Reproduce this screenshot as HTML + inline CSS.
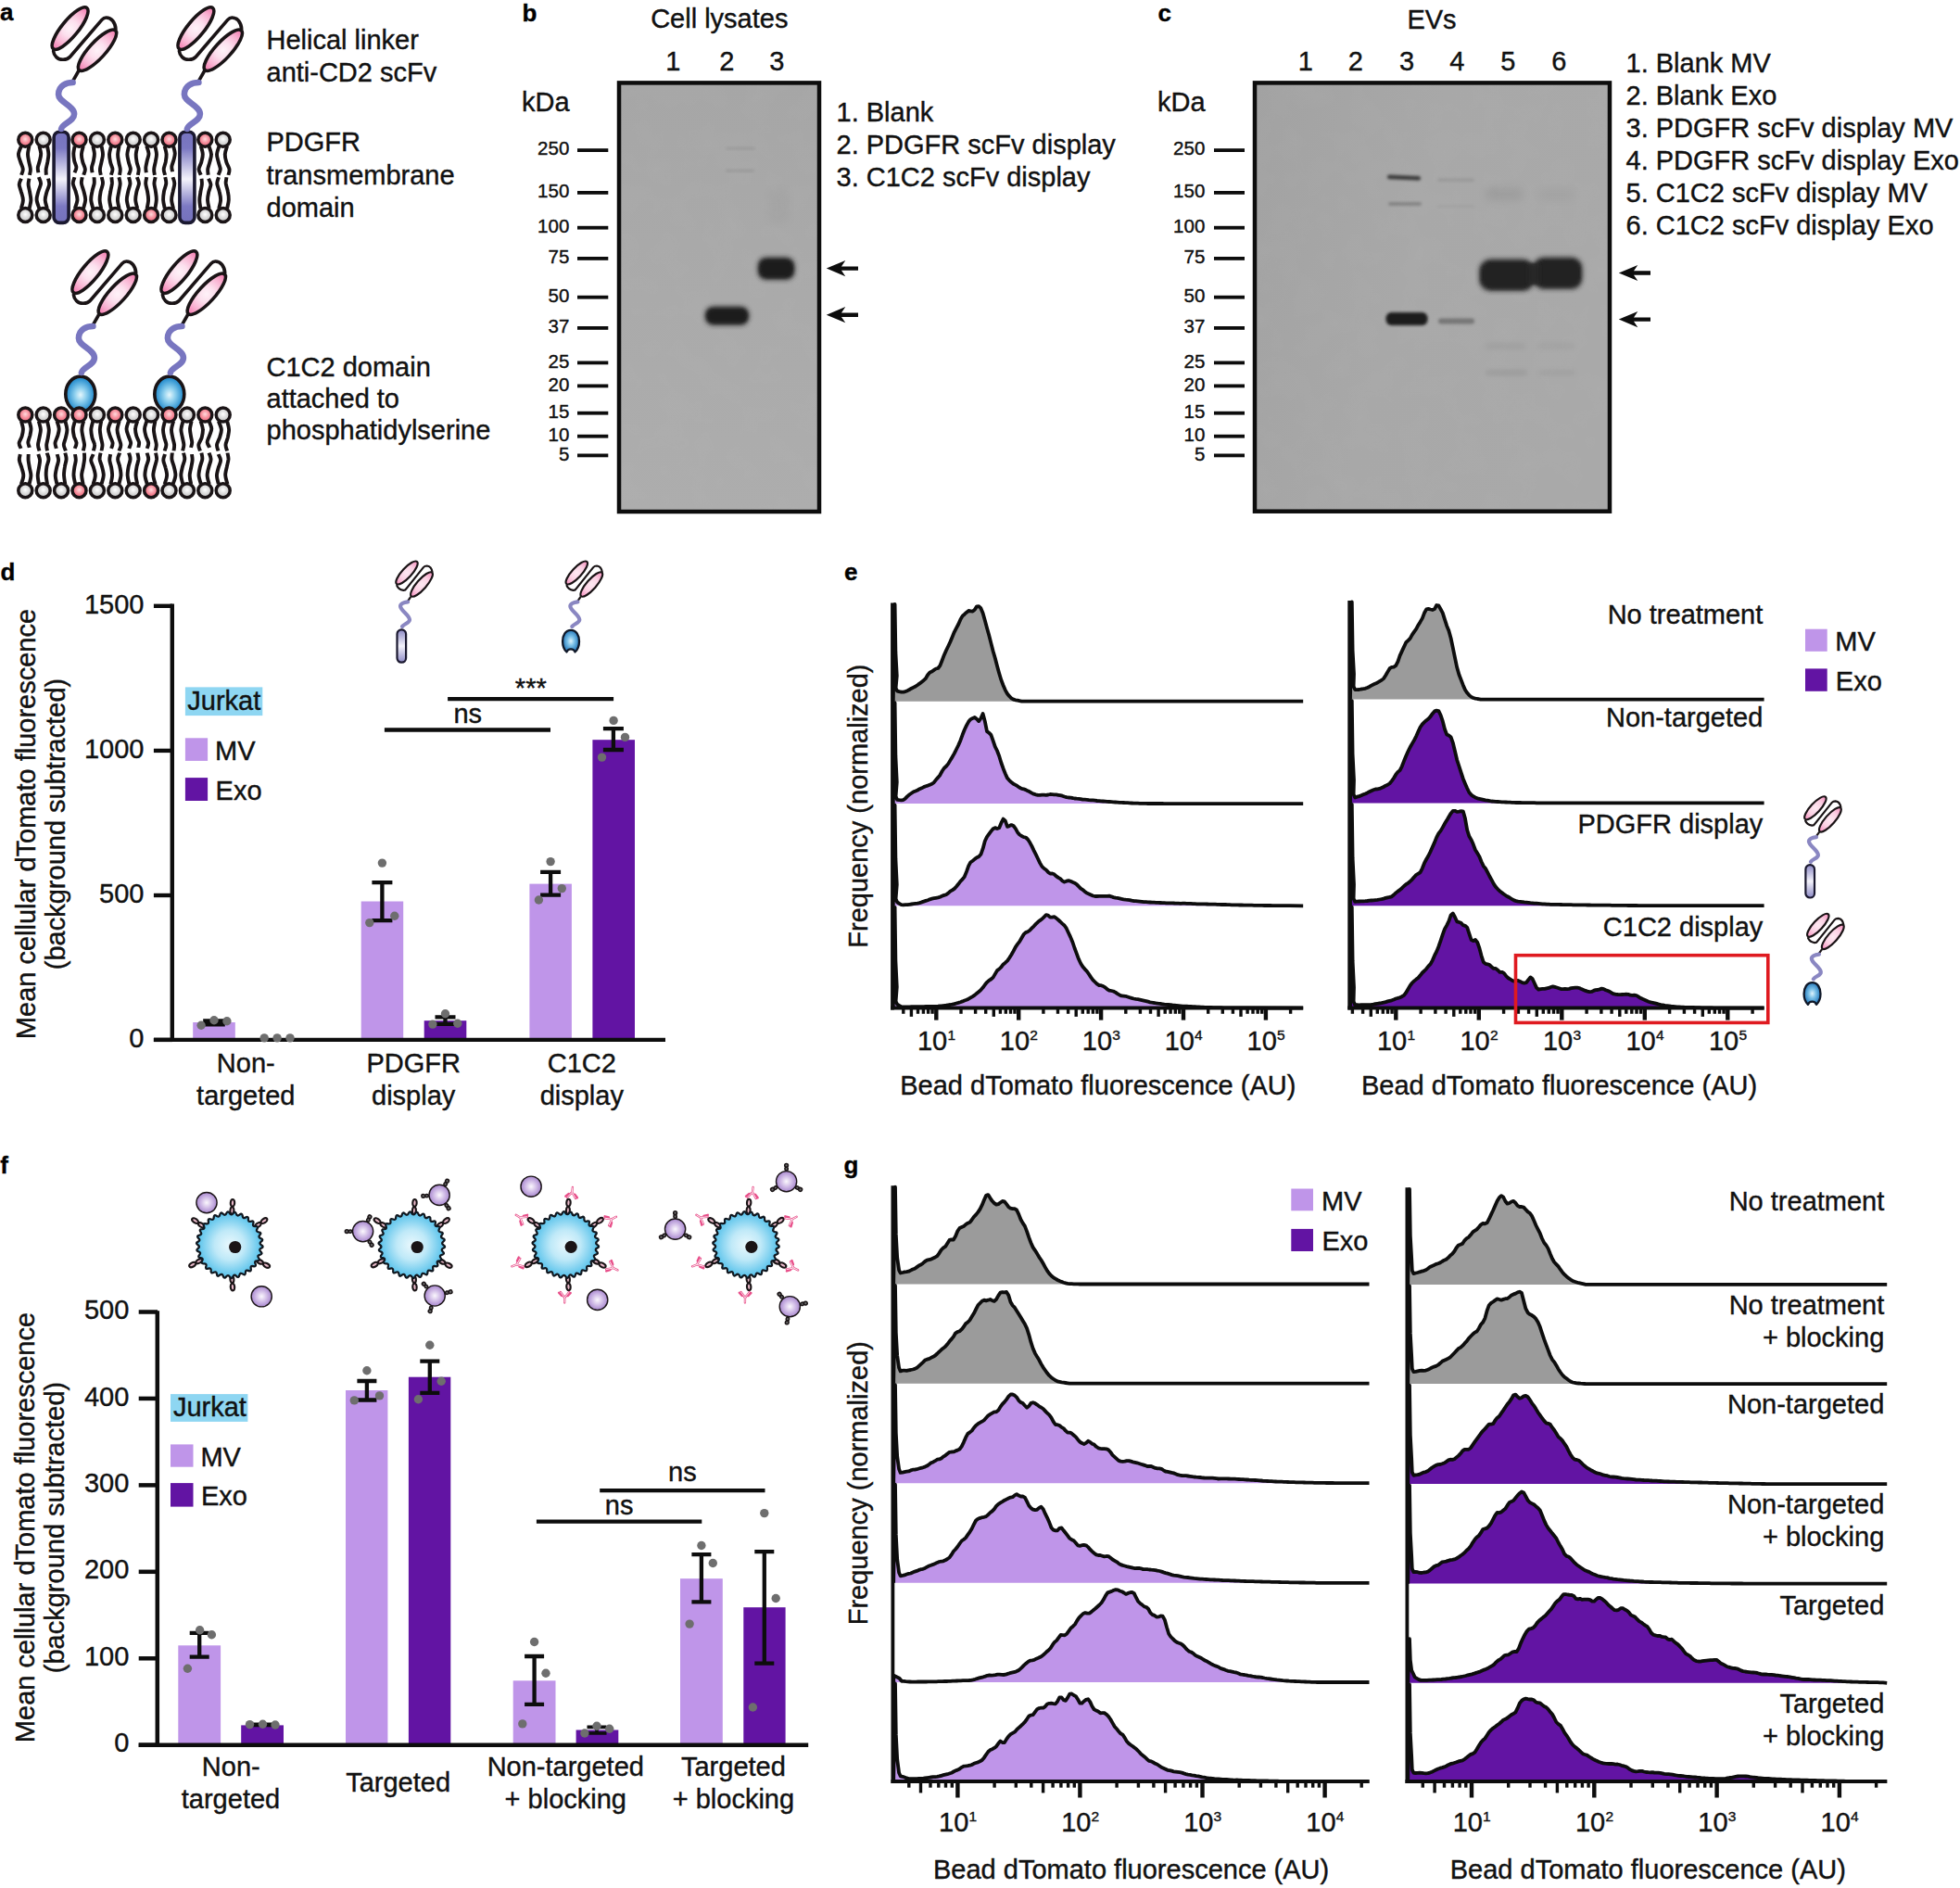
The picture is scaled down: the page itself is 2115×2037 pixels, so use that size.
<!DOCTYPE html>
<html><head><meta charset="utf-8"><title>Figure</title>
<style>
html,body{margin:0;padding:0;background:#fff;}
body{width:2115px;height:2037px;overflow:hidden;}
svg{display:block;font-family:"Liberation Sans",Arial,sans-serif;}
text{stroke:#111;stroke-width:0.4px;}
</style></head><body>
<svg width="2115" height="2037" viewBox="0 0 2115 2037">
<defs>
<radialGradient id="gPinkHead" cx="50%" cy="45%" r="55%"><stop offset="0" stop-color="#ffd9dc"/><stop offset="0.55" stop-color="#f58a98"/><stop offset="1" stop-color="#e85f78"/></radialGradient>
<radialGradient id="gGrayHead" cx="50%" cy="45%" r="55%"><stop offset="0" stop-color="#ffffff"/><stop offset="0.5" stop-color="#dcdcdc"/><stop offset="1" stop-color="#bdbdbd"/></radialGradient>
<radialGradient id="gPinkEll" cx="0.5" cy="0.5" r="0.5" gradientTransform="translate(0.5 0.5) scale(1 3.3) translate(-0.5 -0.5)"><stop offset="0" stop-color="#fef2f8"/><stop offset="0.3" stop-color="#fce0ee"/><stop offset="0.65" stop-color="#f9b3d2"/><stop offset="1" stop-color="#f578ae"/></radialGradient>
<linearGradient id="gTM" x1="0" y1="0" x2="0" y2="1"><stop offset="0" stop-color="#7673bd"/><stop offset="0.18" stop-color="#7b78c2"/><stop offset="0.52" stop-color="#f4f3fb"/><stop offset="0.82" stop-color="#7b78c2"/><stop offset="1" stop-color="#7471bb"/></linearGradient>
<radialGradient id="gBlue" cx="50%" cy="52%" r="55%"><stop offset="0" stop-color="#e6f7fd"/><stop offset="0.35" stop-color="#8fd0ee"/><stop offset="0.8" stop-color="#2f93d1"/><stop offset="1" stop-color="#1f7fc4"/></radialGradient>

<g id="scfv">
<path d="M-8.2,-84.2 C-7.7,-79.3 -3.7,-74.8 2.3,-75 C5.3,-75.1 7.8,-75.8 9.8,-78.1 L44.1,-117.9 C45.8,-119.8 47.3,-120.3 48.8,-120.3 C54.3,-120.3 58.8,-115.3 59.1,-107.5" fill="none" stroke="#1a1416" stroke-width="3.6" stroke-linecap="round"/>
<ellipse cx="9.8" cy="-108.7" rx="28.6" ry="8.8" transform="rotate(-50.5 9.8 -108.7)" fill="url(#gPinkEll)" stroke="#1a1416" stroke-width="3.6"/>
<ellipse cx="39.2" cy="-85.1" rx="29" ry="8.8" transform="rotate(-47.5 39.2 -85.1)" fill="url(#gPinkEll)" stroke="#1a1416" stroke-width="3.6"/>
<path d="M19.6,-63.8 L12.3,-51" fill="none" stroke="#1a1416" stroke-width="3.6"/>
<path d="M12.8,-50.3 C6.3,-50.3 -2.7,-47.3 -2.7,-37.3 C-2.7,-29.3 14.3,-25.3 14.3,-16.3 C14.3,-8.3 1.3,-6.3 0.3,-0.3" fill="none" stroke="#7876c0" stroke-width="6.6" stroke-linecap="round"/>
</g>
<filter id="bl1" x="-20%" y="-50%" width="140%" height="200%"><feGaussianBlur stdDeviation="1.6"/></filter>
<filter id="bl2" x="-20%" y="-80%" width="140%" height="260%"><feGaussianBlur stdDeviation="2.6"/></filter>
<filter id="bl3" x="-20%" y="-100%" width="140%" height="300%"><feGaussianBlur stdDeviation="4"/></filter>
<filter id="grain" x="0" y="0" width="100%" height="100%"><feTurbulence type="fractalNoise" baseFrequency="0.035" numOctaves="2" seed="3" result="n"/><feColorMatrix type="matrix" values="0 0 0 0 0.5  0 0 0 0 0.5  0 0 0 0 0.5  0.55 0 0 0 -0.2"/><feComposite in2="SourceGraphic" operator="in"/></filter>
<linearGradient id="gBlotB" x1="0" y1="0" x2="0" y2="1"><stop offset="0" stop-color="#a6a6a6"/><stop offset="0.5" stop-color="#aaaaaa"/><stop offset="1" stop-color="#adadad"/></linearGradient>
<linearGradient id="gBlotC" x1="0" y1="0" x2="1" y2="0.3"><stop offset="0" stop-color="#a2a2a2"/><stop offset="0.5" stop-color="#a8a8a8"/><stop offset="1" stop-color="#a9a9a9"/></linearGradient>
<path id="arrowL" d="M0,0 L20.5,-8.6 L16.2,-2.2 L34.2,-2.2 L34.2,2.2 L16.2,2.2 L20.5,8.6 Z" fill="#0d0d0d"/>

<radialGradient id="gPinkEllM" cx="0.5" cy="0.5" r="0.5" gradientTransform="translate(0.5 0.5) scale(1 3.1) translate(-0.5 -0.5)"><stop offset="0" stop-color="#fde9f2"/><stop offset="0.5" stop-color="#fbd0e3"/><stop offset="1" stop-color="#f78fbe"/></radialGradient>
<linearGradient id="gTMm" x1="0" y1="0" x2="0" y2="1"><stop offset="0" stop-color="#8d8ac6"/><stop offset="0.5" stop-color="#f4f3fb"/><stop offset="1" stop-color="#8d8ac6"/></linearGradient>
<radialGradient id="gBlueM" cx="50%" cy="50%" r="60%"><stop offset="0" stop-color="#dff3fc"/><stop offset="0.35" stop-color="#7cc1e8"/><stop offset="0.8" stop-color="#2c7fc0"/><stop offset="1" stop-color="#1b5fa8"/></radialGradient>
<g id="mini">
<path d="M-5.7,-44.7 C-4.5,-41.5 -2,-40.3 1.3,-39.6 C3,-39.5 4,-40.5 4.5,-41.5 L22.9,-64.4 C24,-65.7 25.5,-66 26.7,-66 C30,-65.5 32,-63 32.5,-59.3" fill="none" stroke="#1a1416" stroke-width="2.2" stroke-linecap="round"/>
<ellipse cx="5" cy="-58.5" rx="16.3" ry="5.2" transform="rotate(-47.3 5 -58.5)" fill="url(#gPinkEllM)" stroke="#1a1416" stroke-width="2.2"/>
<ellipse cx="21" cy="-46" rx="17" ry="5.2" transform="rotate(-48.6 21 -46)" fill="url(#gPinkEllM)" stroke="#1a1416" stroke-width="2.2"/>
<path d="M9.3,-32.6 L6.1,-28.2" stroke="#1a1416" stroke-width="2.2" fill="none"/>
<path d="M6.1,-27.2 C1.5,-26.6 -2.4,-25 -1.9,-22 C-1.3,-17.5 7.6,-13 8,-8 C8.3,-4.5 2,-3.5 0,-0.5" fill="none" stroke="#8a87c2" stroke-width="4.2" stroke-linecap="round"/>
</g>
<g id="miniTM"><use href="#mini"/><rect x="-5.5" y="2.9" width="9.6" height="35.3" rx="4.6" fill="url(#gTMm)" stroke="#1b1930" stroke-width="2.2"/></g>
<g id="miniBlue"><use href="#mini"/><path d="M-1.2,3.3 C4.5,3.3 7.7,9 7.7,15.5 C7.7,20 6,24.5 3.2,27 C2.4,24.6 0.5,23.8 -1.3,23.8 C-3.1,23.8 -5,24.6 -5.8,27 C-8.6,24.5 -10.2,20 -10.2,15.5 C-10.2,9 -7,3.3 -1.2,3.3 Z" fill="url(#gBlueM)" stroke="#101828" stroke-width="2.3" stroke-linejoin="round"/></g>

<radialGradient id="gCell" cx="50%" cy="50%" r="50%"><stop offset="0" stop-color="#e9f8fd"/><stop offset="0.45" stop-color="#bfe9f8"/><stop offset="0.85" stop-color="#6fcbee"/><stop offset="1" stop-color="#58c1ea"/></radialGradient>
<radialGradient id="gEV" cx="50%" cy="50%" r="50%"><stop offset="0" stop-color="#fbf8fd"/><stop offset="0.5" stop-color="#d3bfe8"/><stop offset="1" stop-color="#a988cf"/></radialGradient>
<g id="rec"><ellipse cx="4.2" cy="0" rx="3.9" ry="2.0" fill="#e9b9c9" stroke="#1a1416" stroke-width="2.1"/><ellipse cx="12.4" cy="0" rx="3.9" ry="2.2" fill="#e9b9c9" stroke="#1a1416" stroke-width="2.1"/></g>
<g id="evab"><ellipse cx="2.0" cy="0" rx="1.9" ry="1.7" fill="#6a6a6a" stroke="#1a1416" stroke-width="1.5"/><ellipse cx="5.8" cy="0" rx="1.9" ry="1.9" fill="#6a6a6a" stroke="#1a1416" stroke-width="1.5"/></g>
<g id="yab" fill="none" stroke-linecap="round" stroke-linejoin="round"><path d="M0,0 H6.5 M6,0.6 L11.5,4.6 M6,-0.6 L11.5,-4.6 M7.4,3.3 L10.6,6.4 M7.4,-3.3 L10.6,-6.4" stroke="#e8508a" stroke-width="2.3"/><path d="M0.3,0 H6.2 M6.2,0.6 L11.2,4.4 M6.2,-0.6 L11.2,-4.4" stroke="#fff" stroke-width="0.8"/></g>

</defs>
<rect width="2115" height="2037" fill="#fff"/>
<path d="M22.9,157.8 C22.4,159.2 20.1,163.6 19.9,166.5 C19.8,169.3 21.4,172.2 22.2,174.9 C23.0,177.6 24.7,180.3 24.8,182.6 C24.9,185.0 23.3,187.8 23.0,188.8 M31.4,157.8 C31.2,159.2 30.0,163.6 30.0,166.5 C30.0,169.3 30.8,172.2 31.3,174.9 C31.8,177.6 32.8,180.3 32.9,182.6 C33.1,185.0 32.1,187.8 31.9,188.8 M22.8,225.0 C23.1,223.5 24.9,218.9 24.9,215.9 C25.0,213.0 23.7,210.0 22.9,207.2 C22.2,204.4 20.7,201.5 20.7,199.1 C20.7,196.7 22.6,193.7 23.0,192.7 M31.7,225.0 C31.9,223.5 33.3,218.9 33.4,215.9 C33.4,213.0 32.6,210.0 32.1,207.2 C31.7,204.4 30.7,201.5 30.6,199.1 C30.5,196.7 31.3,193.7 31.5,192.7 M42.4,157.8 C42.7,159.1 44.1,163.2 44.2,165.8 C44.2,168.4 43.4,171.0 42.8,173.5 C42.3,176.0 41.1,178.5 40.8,180.6 C40.6,182.8 41.3,185.4 41.4,186.3 M51.1,157.8 C51.3,159.2 52.4,163.6 52.4,166.5 C52.4,169.3 51.7,172.2 51.3,174.9 C50.8,177.6 49.9,180.3 49.7,182.6 C49.4,185.0 49.8,187.8 49.9,188.8 M42.4,225.0 C41.9,223.4 39.8,218.6 39.6,215.5 C39.4,212.4 40.7,209.3 41.4,206.4 C42.2,203.4 44.0,200.5 44.1,197.9 C44.1,195.4 42.2,192.3 41.8,191.2 M50.9,225.0 C50.6,223.5 48.8,218.9 48.7,215.9 C48.6,213.0 49.7,210.0 50.4,207.2 C51.1,204.4 52.9,201.5 53.2,199.1 C53.4,196.7 52.2,193.7 52.0,192.7 M80.6,157.8 C80.4,159.1 79.4,163.2 79.3,165.8 C79.3,168.4 79.7,171.0 80.2,173.5 C80.7,176.0 82.4,178.5 82.4,180.6 C82.5,182.8 80.8,185.4 80.4,186.3 M89.8,157.8 C89.5,159.2 88.0,163.6 87.9,166.5 C87.8,169.3 88.6,172.2 89.3,174.9 C90.0,177.6 91.7,180.3 91.9,182.6 C92.0,185.0 90.5,187.8 90.2,188.8 M80.8,225.0 C81.3,223.4 83.3,218.6 83.5,215.5 C83.6,212.4 82.5,209.3 81.6,206.4 C80.8,203.4 78.9,200.5 78.7,197.9 C78.5,195.4 80.2,192.3 80.5,191.2 M90.0,225.0 C90.3,223.4 92.1,218.6 92.2,215.5 C92.2,212.4 91.1,209.3 90.4,206.4 C89.7,203.4 88.2,200.5 87.9,197.9 C87.6,195.4 88.6,192.3 88.7,191.2 M100.4,157.8 C100.6,159.1 101.8,163.2 101.9,165.8 C102.0,168.4 101.4,171.0 100.9,173.5 C100.4,176.0 99.2,178.5 99.0,180.6 C98.8,182.8 99.5,185.4 99.6,186.3 M109.6,157.8 C109.8,159.2 111.0,163.6 111.0,166.5 C111.0,169.3 110.0,172.2 109.5,174.9 C109.0,177.6 108.0,180.3 107.9,182.6 C107.7,185.0 108.6,187.8 108.8,188.8 M100.4,225.0 C100.0,223.4 98.4,218.6 98.2,215.5 C98.1,212.4 98.9,209.3 99.5,206.4 C100.0,203.4 101.3,200.5 101.7,197.9 C102.0,195.4 101.5,192.3 101.5,191.2 M109.2,225.0 C109.0,223.4 107.6,218.6 107.6,215.5 C107.5,212.4 108.2,209.3 108.7,206.4 C109.3,203.4 110.8,200.5 111.0,197.9 C111.2,195.4 109.9,192.3 109.7,191.2 M119.9,157.8 C119.6,159.2 118.2,163.6 118.0,166.5 C117.9,169.3 118.5,172.2 119.1,174.9 C119.6,177.6 121.3,180.3 121.5,182.6 C121.6,185.0 120.1,187.8 119.8,188.8 M128.5,157.8 C128.3,159.2 127.2,163.6 127.1,166.5 C127.0,169.3 127.7,172.2 128.2,174.9 C128.6,177.6 129.6,180.3 129.8,182.6 C129.9,185.0 129.2,187.8 129.0,188.8 M119.8,225.0 C119.5,223.4 118.2,218.6 118.1,215.5 C118.0,212.4 118.8,209.3 119.3,206.4 C119.7,203.4 120.7,200.5 120.9,197.9 C121.0,195.4 120.4,192.3 120.3,191.2 M128.6,225.0 C128.3,223.4 126.9,218.6 126.9,215.5 C126.8,212.4 127.9,209.3 128.3,206.4 C128.8,203.4 129.7,200.5 129.7,197.9 C129.7,195.4 128.6,192.3 128.3,191.2 M139.1,157.8 C138.8,159.2 137.4,163.6 137.3,166.5 C137.3,169.3 138.2,172.2 138.8,174.9 C139.4,177.6 140.9,180.3 140.9,182.6 C140.9,185.0 139.1,187.8 138.8,188.8 M148.4,157.8 C148.1,159.2 146.8,163.6 146.7,166.5 C146.6,169.3 147.1,172.2 147.6,174.9 C148.1,177.6 149.5,180.3 149.7,182.6 C149.9,185.0 149.0,187.8 148.8,188.8 M138.8,225.0 C138.4,223.4 136.9,218.6 136.8,215.5 C136.7,212.4 137.7,209.3 138.3,206.4 C138.9,203.4 140.4,200.5 140.5,197.9 C140.6,195.4 139.2,192.3 139.0,191.2 M148.3,225.0 C147.9,223.4 146.3,218.6 146.2,215.5 C146.1,212.4 146.9,209.3 147.5,206.4 C148.1,203.4 149.9,200.5 150.0,197.9 C150.0,195.4 148.2,192.3 147.8,191.2 M158.2,157.8 C158.6,159.1 160.4,163.2 160.5,165.8 C160.6,168.4 159.2,171.0 158.7,173.5 C158.2,176.0 157.5,178.5 157.3,180.6 C157.2,182.8 157.7,185.4 157.8,186.3 M167.4,157.8 C167.6,159.2 168.9,163.6 169.0,166.5 C169.0,169.3 168.1,172.2 167.7,174.9 C167.2,177.6 166.3,180.3 166.2,182.6 C166.0,185.0 166.7,187.8 166.9,188.8 M158.6,225.0 C158.9,223.4 160.1,218.6 160.1,215.5 C160.2,212.4 159.5,209.3 159.0,206.4 C158.5,203.4 157.3,200.5 157.2,197.9 C157.1,195.4 158.1,192.3 158.3,191.2 M167.4,225.0 C167.6,223.4 168.7,218.6 168.8,215.5 C168.9,212.4 168.3,209.3 167.9,206.4 C167.5,203.4 166.5,200.5 166.4,197.9 C166.4,195.4 167.5,192.3 167.7,191.2 M177.6,157.8 C178.0,159.2 179.4,163.6 179.6,166.5 C179.7,169.3 179.1,172.2 178.7,174.9 C178.2,177.6 176.8,180.3 176.7,182.6 C176.6,185.0 177.9,187.8 178.1,188.8 M187.1,157.8 C187.4,159.1 188.7,163.0 188.8,165.5 C188.8,168.0 187.9,170.6 187.3,173.0 C186.7,175.3 185.5,177.8 185.3,179.8 C185.1,181.9 186.0,184.4 186.1,185.3 M177.8,225.0 C177.5,223.4 176.2,218.6 176.1,215.5 C176.0,212.4 176.5,209.3 177.0,206.4 C177.5,203.4 179.1,200.5 179.3,197.9 C179.5,195.4 178.4,192.3 178.2,191.2 M187.1,225.0 C186.8,223.4 185.1,218.6 185.1,215.5 C185.0,212.4 186.1,209.3 186.7,206.4 C187.2,203.4 188.4,200.5 188.3,197.9 C188.3,195.4 186.8,192.3 186.5,191.2 M216.8,157.8 C217.2,159.2 218.7,163.6 218.8,166.5 C218.9,169.3 218.0,172.2 217.3,174.9 C216.6,177.6 214.6,180.3 214.5,182.6 C214.5,185.0 216.4,187.8 216.8,188.8 M225.5,157.8 C225.9,159.2 227.9,163.6 228.0,166.5 C228.2,169.3 226.9,172.2 226.3,174.9 C225.7,177.6 224.5,180.3 224.2,182.6 C224.0,185.0 224.6,187.8 224.7,188.8 M216.4,225.0 C216.2,223.5 215.3,218.9 215.3,215.9 C215.3,213.0 215.9,210.0 216.4,207.2 C216.8,204.4 217.7,201.5 217.9,199.1 C218.1,196.7 217.6,193.7 217.5,192.7 M225.7,225.0 C225.4,223.5 224.1,218.9 224.0,215.9 C223.9,213.0 224.6,210.0 225.2,207.2 C225.8,204.4 227.5,201.5 227.5,199.1 C227.4,196.7 225.4,193.7 225.0,192.7 M236.4,157.8 C236.0,159.2 234.1,163.6 234.0,166.5 C233.9,169.3 235.1,172.2 235.8,174.9 C236.4,177.6 237.8,180.3 237.8,182.6 C237.7,185.0 235.9,187.8 235.5,188.8 M245.1,157.8 C244.7,159.2 242.9,163.6 242.8,166.5 C242.6,169.3 243.5,172.2 244.3,174.9 C245.1,177.6 247.1,180.3 247.5,182.6 C247.9,185.0 246.6,187.8 246.4,188.8 M236.1,225.0 C236.5,223.4 238.1,218.6 238.1,215.5 C238.2,212.4 237.3,209.3 236.6,206.4 C236.0,203.4 234.3,200.5 234.2,197.9 C234.1,195.4 235.7,192.3 236.0,191.2 M245.1,225.0 C245.4,223.4 246.7,218.6 246.8,215.5 C247.0,212.4 246.4,209.3 245.8,206.4 C245.3,203.4 244.0,200.5 243.7,197.9 C243.5,195.4 244.4,192.3 244.5,191.2" fill="none" stroke="#1a1416" stroke-width="3.9" stroke-linecap="butt" stroke-linejoin="round"/>
<circle cx="27.3" cy="150.8" r="7.5" fill="url(#gPinkHead)" stroke="#1a1416" stroke-width="3.5"/>
<circle cx="27.3" cy="232.0" r="7.5" fill="url(#gGrayHead)" stroke="#1a1416" stroke-width="3.5"/>
<circle cx="46.7" cy="150.8" r="7.5" fill="url(#gGrayHead)" stroke="#1a1416" stroke-width="3.5"/>
<circle cx="46.7" cy="232.0" r="7.5" fill="url(#gGrayHead)" stroke="#1a1416" stroke-width="3.5"/>
<circle cx="85.5" cy="150.8" r="7.5" fill="url(#gPinkHead)" stroke="#1a1416" stroke-width="3.5"/>
<circle cx="85.5" cy="232.0" r="7.5" fill="url(#gPinkHead)" stroke="#1a1416" stroke-width="3.5"/>
<circle cx="104.9" cy="150.8" r="7.5" fill="url(#gGrayHead)" stroke="#1a1416" stroke-width="3.5"/>
<circle cx="104.9" cy="232.0" r="7.5" fill="url(#gGrayHead)" stroke="#1a1416" stroke-width="3.5"/>
<circle cx="124.3" cy="150.8" r="7.5" fill="url(#gPinkHead)" stroke="#1a1416" stroke-width="3.5"/>
<circle cx="124.3" cy="232.0" r="7.5" fill="url(#gGrayHead)" stroke="#1a1416" stroke-width="3.5"/>
<circle cx="143.7" cy="150.8" r="7.5" fill="url(#gGrayHead)" stroke="#1a1416" stroke-width="3.5"/>
<circle cx="143.7" cy="232.0" r="7.5" fill="url(#gGrayHead)" stroke="#1a1416" stroke-width="3.5"/>
<circle cx="163.1" cy="150.8" r="7.5" fill="url(#gGrayHead)" stroke="#1a1416" stroke-width="3.5"/>
<circle cx="163.1" cy="232.0" r="7.5" fill="url(#gPinkHead)" stroke="#1a1416" stroke-width="3.5"/>
<circle cx="182.5" cy="150.8" r="7.5" fill="url(#gPinkHead)" stroke="#1a1416" stroke-width="3.5"/>
<circle cx="182.5" cy="232.0" r="7.5" fill="url(#gGrayHead)" stroke="#1a1416" stroke-width="3.5"/>
<circle cx="221.3" cy="150.8" r="7.5" fill="url(#gPinkHead)" stroke="#1a1416" stroke-width="3.5"/>
<circle cx="221.3" cy="232.0" r="7.5" fill="url(#gGrayHead)" stroke="#1a1416" stroke-width="3.5"/>
<circle cx="240.7" cy="150.8" r="7.5" fill="url(#gGrayHead)" stroke="#1a1416" stroke-width="3.5"/>
<circle cx="240.7" cy="232.0" r="7.5" fill="url(#gGrayHead)" stroke="#1a1416" stroke-width="3.5"/>
<rect x="58.1" y="142.2" width="16" height="98.2" rx="6" ry="6" fill="url(#gTM)" stroke="#1b1930" stroke-width="3.6"/>
<use href="#scfv" x="65.8" y="139.3"/>
<rect x="193.9" y="142.2" width="16" height="98.2" rx="6" ry="6" fill="url(#gTM)" stroke="#1b1930" stroke-width="3.6"/>
<use href="#scfv" x="201.6" y="139.3"/>
<ellipse cx="86.8" cy="425.3" rx="16" ry="19.2" fill="url(#gBlue)" stroke="#1a1416" stroke-width="3.6"/>
<use href="#scfv" x="87.6" y="402.3"/>
<ellipse cx="182.8" cy="425.3" rx="16" ry="19.2" fill="url(#gBlue)" stroke="#1a1416" stroke-width="3.6"/>
<use href="#scfv" x="183.6" y="402.3"/>
<path d="M23.0,454.6 C23.3,456.0 24.8,460.1 24.9,462.8 C25.0,465.5 24.3,468.2 23.6,470.7 C22.9,473.2 20.8,475.8 20.6,478.0 C20.4,480.2 22.2,482.9 22.6,483.9 M31.7,454.6 C32.0,455.9 33.4,459.9 33.5,462.5 C33.6,465.1 32.8,467.7 32.3,470.1 C31.7,472.6 30.4,475.1 30.3,477.2 C30.2,479.3 31.6,481.9 31.8,482.9 M22.9,522.2 C23.3,520.7 25.3,516.2 25.3,513.2 C25.4,510.3 24.1,507.4 23.4,504.6 C22.6,501.8 21.1,499.0 20.8,496.6 C20.6,494.2 21.6,491.2 21.8,490.1 M31.6,522.2 C31.9,520.7 33.4,516.2 33.4,513.2 C33.5,510.3 32.3,507.4 31.9,504.6 C31.4,501.8 30.8,499.0 30.6,496.6 C30.4,494.2 30.7,491.2 30.7,490.1 M41.8,454.6 C42.1,456.1 43.8,460.6 43.9,463.5 C44.0,466.4 43.0,469.3 42.5,472.1 C42.0,474.8 41.0,477.6 41.0,480.0 C41.0,482.4 42.2,485.3 42.5,486.4 M51.0,454.6 C51.3,456.1 52.6,460.6 52.8,463.5 C52.9,466.4 52.2,469.3 51.8,472.1 C51.4,474.8 50.4,477.6 50.2,480.0 C50.1,482.4 50.8,485.3 51.0,486.4 M41.9,522.2 C41.7,520.7 40.7,516.2 40.7,513.2 C40.7,510.3 41.6,507.4 42.0,504.6 C42.4,501.8 43.2,499.0 43.1,496.6 C42.9,494.2 41.6,491.2 41.3,490.1 M51.0,522.2 C50.8,520.6 49.8,515.9 49.7,512.8 C49.6,509.7 49.9,506.7 50.4,503.7 C50.9,500.8 52.5,497.9 52.5,495.4 C52.6,492.8 51.0,489.8 50.7,488.6 M61.5,454.6 C61.9,456.0 63.7,460.1 63.7,462.8 C63.8,465.5 62.8,468.2 62.1,470.7 C61.3,473.2 59.7,475.8 59.5,478.0 C59.3,480.2 60.6,482.9 60.8,483.9 M70.5,454.6 C70.8,456.1 72.3,460.6 72.4,463.5 C72.5,466.4 71.5,469.3 70.9,472.1 C70.3,474.8 68.8,477.6 68.8,480.0 C68.8,482.4 70.6,485.3 70.9,486.4 M61.4,522.2 C61.1,520.7 59.7,516.2 59.7,513.2 C59.7,510.3 60.6,507.4 61.1,504.6 C61.7,501.8 63.0,499.0 63.1,496.6 C63.2,494.2 61.9,491.2 61.7,490.1 M70.3,522.2 C70.1,520.6 69.1,515.9 69.0,512.8 C68.9,509.7 69.4,506.7 69.9,503.7 C70.3,500.8 71.5,497.9 71.6,495.4 C71.7,492.8 70.5,489.8 70.3,488.6 M80.8,454.6 C80.5,456.0 79.0,460.1 78.8,462.8 C78.7,465.5 79.3,468.2 79.9,470.7 C80.6,473.2 82.4,475.8 82.5,478.0 C82.7,480.2 81.0,482.9 80.7,483.9 M90.1,454.6 C89.8,456.1 88.3,460.6 88.3,463.5 C88.2,466.4 89.1,469.3 89.6,472.1 C90.0,474.8 91.0,477.6 91.1,480.0 C91.1,482.4 90.0,485.3 89.8,486.4 M81.2,522.2 C80.9,520.7 79.7,516.2 79.5,513.2 C79.4,510.3 79.9,507.4 80.3,504.6 C80.7,501.8 81.7,499.0 81.8,496.6 C81.9,494.2 81.1,491.2 81.0,490.1 M89.6,522.2 C89.4,520.6 88.1,515.9 88.1,512.8 C88.1,509.7 89.3,506.7 89.8,503.7 C90.3,500.8 90.9,497.9 91.1,495.4 C91.3,492.8 91.0,489.8 90.9,488.6 M100.3,454.6 C99.9,456.1 98.5,460.6 98.3,463.5 C98.2,466.4 98.8,469.3 99.4,472.1 C100.0,474.8 101.9,477.6 102.1,480.0 C102.4,482.4 101.0,485.3 100.8,486.4 M109.2,454.6 C109.0,456.1 107.9,460.6 107.8,463.5 C107.8,466.4 108.4,469.3 108.9,472.1 C109.3,474.8 110.4,477.6 110.5,480.0 C110.6,482.4 109.6,485.3 109.5,486.4 M100.6,522.2 C101.0,520.7 102.8,516.2 102.8,513.2 C102.9,510.3 101.7,507.4 101.0,504.6 C100.2,501.8 98.3,499.0 98.2,496.6 C98.2,494.2 100.3,491.2 100.7,490.1 M109.6,522.2 C109.9,520.6 111.7,515.9 111.8,512.8 C111.8,509.7 110.8,506.7 110.1,503.7 C109.4,500.8 107.9,497.9 107.6,495.4 C107.4,492.8 108.4,489.8 108.6,488.6 M119.7,454.6 C119.2,456.0 117.1,460.1 116.9,462.8 C116.8,465.5 118.0,468.2 118.8,470.7 C119.6,473.2 121.4,475.8 121.6,478.0 C121.8,480.2 120.3,482.9 120.0,483.9 M128.6,454.6 C128.3,456.1 126.6,460.6 126.5,463.5 C126.4,466.4 127.5,469.3 128.2,472.1 C128.8,474.8 130.4,477.6 130.4,480.0 C130.5,482.4 128.8,485.3 128.5,486.4 M119.5,522.2 C119.7,520.7 121.0,516.2 121.1,513.2 C121.2,510.3 120.6,507.4 120.2,504.6 C119.7,501.8 118.5,499.0 118.3,496.6 C118.1,494.2 119.0,491.2 119.2,490.1 M128.4,522.2 C128.7,520.6 130.3,515.9 130.5,512.8 C130.6,509.7 129.9,506.7 129.3,503.7 C128.8,500.8 127.1,497.9 127.1,495.4 C127.1,492.8 128.9,489.8 129.2,488.6 M138.8,454.6 C138.4,456.0 136.5,460.1 136.5,462.8 C136.5,465.5 137.9,468.2 138.7,470.7 C139.5,473.2 141.1,475.8 141.2,478.0 C141.2,480.2 139.5,482.9 139.2,483.9 M148.2,454.6 C147.8,455.9 146.2,459.9 146.1,462.5 C145.9,465.1 146.5,467.7 147.2,470.1 C147.8,472.6 149.7,475.1 150.1,477.2 C150.4,479.3 149.4,481.9 149.3,482.9 M139.4,522.2 C139.1,520.6 137.7,515.9 137.6,512.8 C137.5,509.7 138.1,506.7 138.6,503.7 C139.1,500.8 140.5,497.9 140.6,495.4 C140.7,492.8 139.3,489.8 139.1,488.6 M148.2,522.2 C147.9,520.6 146.6,515.9 146.5,512.8 C146.4,509.7 147.0,506.7 147.5,503.7 C148.0,500.8 149.3,497.9 149.5,495.4 C149.6,492.8 148.5,489.8 148.4,488.6 M158.2,454.6 C157.8,456.0 156.1,460.1 156.0,462.8 C155.9,465.5 156.8,468.2 157.5,470.7 C158.2,473.2 160.0,475.8 160.2,478.0 C160.4,480.2 158.9,482.9 158.6,483.9 M167.4,454.6 C167.2,456.1 165.9,460.6 165.9,463.5 C165.8,466.4 166.7,469.3 167.2,472.1 C167.7,474.8 168.7,477.6 168.8,480.0 C168.8,482.4 167.8,485.3 167.6,486.4 M158.7,522.2 C158.3,520.6 156.6,515.9 156.4,512.8 C156.2,509.7 157.1,506.7 157.7,503.7 C158.4,500.8 160.1,497.9 160.2,495.4 C160.3,492.8 158.9,489.8 158.6,488.6 M167.6,522.2 C167.2,520.6 165.4,515.9 165.3,512.8 C165.2,509.7 166.4,506.7 167.0,503.7 C167.7,500.8 168.9,497.9 169.1,495.4 C169.2,492.8 168.2,489.8 168.0,488.6 M177.9,454.6 C177.6,456.1 176.1,460.6 176.0,463.5 C175.9,466.4 176.7,469.3 177.3,472.1 C177.9,474.8 179.4,477.6 179.4,480.0 C179.4,482.4 177.9,485.3 177.6,486.4 M187.1,454.6 C186.8,456.1 185.1,460.6 185.0,463.5 C184.8,466.4 185.8,469.3 186.3,472.1 C186.8,474.8 187.9,477.6 188.1,480.0 C188.3,482.4 187.6,485.3 187.5,486.4 M177.7,522.2 C178.1,520.7 180.0,516.2 180.1,513.2 C180.3,510.3 179.3,507.4 178.6,504.6 C178.0,501.8 176.4,499.0 176.3,496.6 C176.2,494.2 177.7,491.2 178.0,490.1 M186.7,522.2 C187.2,520.6 189.2,515.9 189.4,512.8 C189.5,509.7 188.4,506.7 187.8,503.7 C187.1,500.8 185.7,497.9 185.4,495.4 C185.1,492.8 185.8,489.8 185.8,488.6 M197.4,454.6 C197.1,456.1 195.5,460.6 195.4,463.5 C195.3,466.4 196.4,469.3 196.9,472.1 C197.4,474.8 198.3,477.6 198.4,480.0 C198.4,482.4 197.3,485.3 197.1,486.4 M206.6,454.6 C206.4,455.9 205.2,459.9 205.0,462.5 C204.9,465.1 205.5,467.7 205.9,470.1 C206.2,472.6 207.2,475.1 207.2,477.2 C207.3,479.3 206.2,481.9 206.0,482.9 M197.3,522.2 C196.9,520.6 195.4,515.9 195.3,512.8 C195.3,509.7 196.3,506.7 196.9,503.7 C197.6,500.8 199.1,497.9 199.3,495.4 C199.5,492.8 198.2,489.8 198.0,488.6 M206.2,522.2 C205.9,520.7 204.7,516.2 204.7,513.2 C204.6,510.3 205.7,507.4 206.2,504.6 C206.7,501.8 207.5,499.0 207.6,496.6 C207.8,494.2 207.1,491.2 207.0,490.1 M216.6,454.6 C217.0,456.1 218.8,460.6 218.9,463.5 C219.1,466.4 218.4,469.3 217.7,472.1 C216.9,474.8 214.6,477.6 214.3,480.0 C214.0,482.4 215.7,485.3 216.0,486.4 M225.7,454.6 C226.1,455.9 228.2,459.9 228.3,462.5 C228.3,465.1 226.8,467.7 226.0,470.1 C225.2,472.6 223.6,475.1 223.6,477.2 C223.7,479.3 225.8,481.9 226.2,482.9 M216.8,522.2 C216.4,520.6 214.7,515.9 214.5,512.8 C214.4,509.7 215.3,506.7 215.9,503.7 C216.5,500.8 218.0,497.9 218.3,495.4 C218.6,492.8 217.6,489.8 217.4,488.6 M225.7,522.2 C225.3,520.6 223.6,515.9 223.6,512.8 C223.6,509.7 224.7,506.7 225.4,503.7 C226.1,500.8 227.6,497.9 227.6,495.4 C227.7,492.8 225.9,489.8 225.5,488.6 M235.9,454.6 C236.4,456.1 238.7,460.6 238.9,463.5 C239.1,466.4 237.8,469.3 237.0,472.1 C236.1,474.8 234.3,477.6 234.0,480.0 C233.8,482.4 235.2,485.3 235.5,486.4 M245.2,454.6 C245.5,456.1 247.0,460.6 247.1,463.5 C247.2,466.4 246.3,469.3 245.8,472.1 C245.2,474.8 243.6,477.6 243.5,480.0 C243.4,482.4 244.8,485.3 245.1,486.4 M235.8,522.2 C235.5,520.7 233.9,516.2 233.9,513.2 C233.9,510.3 235.0,507.4 235.7,504.6 C236.5,501.8 238.2,499.0 238.1,496.6 C238.1,494.2 236.0,491.2 235.6,490.1 M245.4,522.2 C245.1,520.6 243.3,515.9 243.2,512.8 C243.1,509.7 244.2,506.7 244.8,503.7 C245.3,500.8 246.3,497.9 246.5,495.4 C246.6,492.8 245.6,489.8 245.5,488.6" fill="none" stroke="#1a1416" stroke-width="3.9" stroke-linecap="butt" stroke-linejoin="round"/>
<circle cx="27.3" cy="447.6" r="7.5" fill="url(#gPinkHead)" stroke="#1a1416" stroke-width="3.5"/>
<circle cx="27.3" cy="529.2" r="7.5" fill="url(#gGrayHead)" stroke="#1a1416" stroke-width="3.5"/>
<circle cx="46.7" cy="447.6" r="7.5" fill="url(#gGrayHead)" stroke="#1a1416" stroke-width="3.5"/>
<circle cx="46.7" cy="529.2" r="7.5" fill="url(#gGrayHead)" stroke="#1a1416" stroke-width="3.5"/>
<circle cx="66.1" cy="447.6" r="7.5" fill="url(#gPinkHead)" stroke="#1a1416" stroke-width="3.5"/>
<circle cx="66.1" cy="529.2" r="7.5" fill="url(#gGrayHead)" stroke="#1a1416" stroke-width="3.5"/>
<circle cx="85.5" cy="447.6" r="7.5" fill="url(#gPinkHead)" stroke="#1a1416" stroke-width="3.5"/>
<circle cx="85.5" cy="529.2" r="7.5" fill="url(#gPinkHead)" stroke="#1a1416" stroke-width="3.5"/>
<circle cx="104.9" cy="447.6" r="7.5" fill="url(#gGrayHead)" stroke="#1a1416" stroke-width="3.5"/>
<circle cx="104.9" cy="529.2" r="7.5" fill="url(#gGrayHead)" stroke="#1a1416" stroke-width="3.5"/>
<circle cx="124.3" cy="447.6" r="7.5" fill="url(#gPinkHead)" stroke="#1a1416" stroke-width="3.5"/>
<circle cx="124.3" cy="529.2" r="7.5" fill="url(#gGrayHead)" stroke="#1a1416" stroke-width="3.5"/>
<circle cx="143.7" cy="447.6" r="7.5" fill="url(#gGrayHead)" stroke="#1a1416" stroke-width="3.5"/>
<circle cx="143.7" cy="529.2" r="7.5" fill="url(#gGrayHead)" stroke="#1a1416" stroke-width="3.5"/>
<circle cx="163.1" cy="447.6" r="7.5" fill="url(#gGrayHead)" stroke="#1a1416" stroke-width="3.5"/>
<circle cx="163.1" cy="529.2" r="7.5" fill="url(#gPinkHead)" stroke="#1a1416" stroke-width="3.5"/>
<circle cx="182.5" cy="447.6" r="7.5" fill="url(#gPinkHead)" stroke="#1a1416" stroke-width="3.5"/>
<circle cx="182.5" cy="529.2" r="7.5" fill="url(#gGrayHead)" stroke="#1a1416" stroke-width="3.5"/>
<circle cx="201.9" cy="447.6" r="7.5" fill="url(#gGrayHead)" stroke="#1a1416" stroke-width="3.5"/>
<circle cx="201.9" cy="529.2" r="7.5" fill="url(#gGrayHead)" stroke="#1a1416" stroke-width="3.5"/>
<circle cx="221.3" cy="447.6" r="7.5" fill="url(#gPinkHead)" stroke="#1a1416" stroke-width="3.5"/>
<circle cx="221.3" cy="529.2" r="7.5" fill="url(#gGrayHead)" stroke="#1a1416" stroke-width="3.5"/>
<circle cx="240.7" cy="447.6" r="7.5" fill="url(#gGrayHead)" stroke="#1a1416" stroke-width="3.5"/>
<circle cx="240.7" cy="529.2" r="7.5" fill="url(#gGrayHead)" stroke="#1a1416" stroke-width="3.5"/>
<text x="0.0" y="22.3" font-size="26" text-anchor="start" font-weight="bold" fill="#000" >a</text>
<text x="287.5" y="53.0" font-size="29" text-anchor="start" fill="#111" >Helical linker</text>
<text x="287.5" y="87.7" font-size="29" text-anchor="start" fill="#111" >anti-CD2 scFv</text>
<text x="287.5" y="163.3" font-size="29" text-anchor="start" fill="#111" >PDGFR</text>
<text x="287.5" y="198.5" font-size="29" text-anchor="start" fill="#111" >transmembrane</text>
<text x="287.5" y="233.5" font-size="29" text-anchor="start" fill="#111" >domain</text>
<text x="287.5" y="405.5" font-size="29" text-anchor="start" fill="#111" >C1C2 domain</text>
<text x="287.5" y="439.5" font-size="29" text-anchor="start" fill="#111" >attached to</text>
<text x="287.5" y="474.3" font-size="29" text-anchor="start" fill="#111" >phosphatidylserine</text>
<text x="563.5" y="22.8" font-size="26" text-anchor="start" font-weight="bold" fill="#000" >b</text>
<text x="776.3" y="30.3" font-size="29" text-anchor="middle" fill="#111" >Cell lysates</text>
<text x="726.4" y="75.8" font-size="29" text-anchor="middle" fill="#111" >1</text>
<text x="784.2" y="75.8" font-size="29" text-anchor="middle" fill="#111" >2</text>
<text x="838.4" y="75.8" font-size="29" text-anchor="middle" fill="#111" >3</text>
<rect x="668" y="89.4" width="216" height="462.6" fill="url(#gBlotB)"/>
<rect x="668" y="89.4" width="216" height="462.6" fill="#fff" opacity="0.35" filter="url(#grain)"/>
<rect x="783.0" y="158.8" width="32.0" height="2.8" rx="1.4" fill="#555" opacity="0.16" filter="url(#bl1)"/>
<rect x="783.0" y="182.8" width="31.0" height="2.6" rx="1.3" fill="#555" opacity="0.2" filter="url(#bl1)"/>
<rect x="829.0" y="205.0" width="23.0" height="35.0" rx="8.0" fill="#666" opacity="0.06" filter="url(#bl3)"/>
<rect x="760.5" y="330.5" width="48.0" height="20.5" rx="9.0" fill="#2a2a2a" opacity="1" filter="url(#bl2)"/>
<rect x="763.0" y="333.5" width="43.0" height="14.5" rx="7.0" fill="#1e1e1e" opacity="0.95" filter="url(#bl1)"/>
<rect x="817.5" y="277.5" width="40.0" height="24.5" rx="9.0" fill="#2a2a2a" opacity="1" filter="url(#bl2)"/>
<rect x="820.0" y="280.5" width="35.5" height="18.5" rx="8.0" fill="#1c1c1c" opacity="0.95" filter="url(#bl1)"/>
<rect x="668" y="89.4" width="216" height="462.6" fill="none" stroke="#0d0d0d" stroke-width="4.5"/>
<text x="614.3" y="167.3" font-size="20.5" text-anchor="end" fill="#111" >250</text>
<rect x="623" y="160.2" width="33.3" height="3.8" fill="#0d0d0d"/>
<text x="614.3" y="213.1" font-size="20.5" text-anchor="end" fill="#111" >150</text>
<rect x="623" y="206.0" width="33.3" height="3.8" fill="#0d0d0d"/>
<text x="614.3" y="250.9" font-size="20.5" text-anchor="end" fill="#111" >100</text>
<rect x="623" y="243.8" width="33.3" height="3.8" fill="#0d0d0d"/>
<text x="614.3" y="284.1" font-size="20.5" text-anchor="end" fill="#111" >75</text>
<rect x="623" y="277.0" width="33.3" height="3.8" fill="#0d0d0d"/>
<text x="614.3" y="325.9" font-size="20.5" text-anchor="end" fill="#111" >50</text>
<rect x="623" y="318.8" width="33.3" height="3.8" fill="#0d0d0d"/>
<text x="614.3" y="359.1" font-size="20.5" text-anchor="end" fill="#111" >37</text>
<rect x="623" y="352.0" width="33.3" height="3.8" fill="#0d0d0d"/>
<text x="614.3" y="396.6" font-size="20.5" text-anchor="end" fill="#111" >25</text>
<rect x="623" y="389.5" width="33.3" height="3.8" fill="#0d0d0d"/>
<text x="614.3" y="421.6" font-size="20.5" text-anchor="end" fill="#111" >20</text>
<rect x="623" y="414.5" width="33.3" height="3.8" fill="#0d0d0d"/>
<text x="614.3" y="450.9" font-size="20.5" text-anchor="end" fill="#111" >15</text>
<rect x="623" y="443.8" width="33.3" height="3.8" fill="#0d0d0d"/>
<text x="614.3" y="475.9" font-size="20.5" text-anchor="end" fill="#111" >10</text>
<rect x="623" y="468.8" width="33.3" height="3.8" fill="#0d0d0d"/>
<text x="614.3" y="496.6" font-size="20.5" text-anchor="end" fill="#111" >5</text>
<rect x="623" y="489.5" width="33.3" height="3.8" fill="#0d0d0d"/>
<text x="563.0" y="119.8" font-size="29" text-anchor="start" fill="#111" >kDa</text>
<use href="#arrowL" x="891.8" y="289.6"/>
<use href="#arrowL" x="891.8" y="339.7"/>
<text x="902.5" y="130.5" font-size="29" text-anchor="start" fill="#111" >1. Blank</text>
<text x="902.5" y="166.0" font-size="29" text-anchor="start" fill="#111" >2. PDGFR scFv display</text>
<text x="902.5" y="200.8" font-size="29" text-anchor="start" fill="#111" >3. C1C2 scFv display</text>
<text x="1249.5" y="22.8" font-size="26" text-anchor="start" font-weight="bold" fill="#000" >c</text>
<text x="1545.0" y="30.6" font-size="29" text-anchor="middle" fill="#111" >EVs</text>
<text x="1408.8" y="76.0" font-size="29" text-anchor="middle" fill="#111" >1</text>
<text x="1462.7" y="76.0" font-size="29" text-anchor="middle" fill="#111" >2</text>
<text x="1518.0" y="76.0" font-size="29" text-anchor="middle" fill="#111" >3</text>
<text x="1572.3" y="76.0" font-size="29" text-anchor="middle" fill="#111" >4</text>
<text x="1627.3" y="76.0" font-size="29" text-anchor="middle" fill="#111" >5</text>
<text x="1682.4" y="76.0" font-size="29" text-anchor="middle" fill="#111" >6</text>
<rect x="1354" y="89.4" width="383" height="462.3" fill="url(#gBlotC)"/>
<rect x="1354" y="89.4" width="383" height="462.3" fill="#fff" opacity="0.35" filter="url(#grain)"/>
<rect x="1497.0" y="189.2" width="36.0" height="4.8" rx="2.0" fill="#2a2a2a" opacity="0.85" filter="url(#bl1)" transform="rotate(2.5 1515.0 191.6)"/>
<rect x="1498.0" y="218.0" width="36.0" height="4.0" rx="2.0" fill="#444" opacity="0.35" filter="url(#bl1)"/>
<rect x="1495.5" y="337.0" width="45.0" height="14.0" rx="6.0" fill="#1a1a1a" opacity="1" filter="url(#bl1)"/>
<rect x="1551.0" y="192.5" width="40.0" height="3.5" rx="2.0" fill="#555" opacity="0.18" filter="url(#bl1)"/>
<rect x="1551.0" y="221.0" width="40.0" height="3.0" rx="2.0" fill="#555" opacity="0.08" filter="url(#bl1)"/>
<rect x="1552.0" y="343.5" width="39.0" height="6.0" rx="3.0" fill="#444" opacity="0.5" filter="url(#bl1)"/>
<rect x="1596.0" y="279.5" width="60.0" height="34.5" rx="13.0" fill="#2b2b2b" opacity="1" filter="url(#bl2)"/>
<rect x="1599.0" y="283.0" width="54.0" height="27.5" rx="11.0" fill="#232323" opacity="0.95" filter="url(#bl1)"/>
<rect x="1654.0" y="277.5" width="53.5" height="34.5" rx="12.0" fill="#2b2b2b" opacity="1" filter="url(#bl2)"/>
<rect x="1657.0" y="281.0" width="48.0" height="27.5" rx="10.0" fill="#232323" opacity="0.95" filter="url(#bl1)"/>
<rect x="1648.0" y="284.0" width="14.0" height="23.0" rx="4.0" fill="#262626" opacity="0.9" filter="url(#bl1)"/>
<rect x="1603.0" y="202.0" width="41.0" height="15.0" rx="7.5" fill="#555" opacity="0.13" filter="url(#bl3)"/>
<rect x="1660.0" y="204.0" width="40.0" height="12.0" rx="6.0" fill="#555" opacity="0.06" filter="url(#bl3)"/>
<rect x="1603.0" y="370.0" width="43.0" height="7.0" rx="3.5" fill="#555" opacity="0.09" filter="url(#bl2)"/>
<rect x="1660.0" y="370.0" width="40.0" height="7.0" rx="3.5" fill="#555" opacity="0.07" filter="url(#bl2)"/>
<rect x="1603.0" y="399.0" width="45.0" height="6.0" rx="3.0" fill="#555" opacity="0.15" filter="url(#bl2)"/>
<rect x="1660.0" y="399.0" width="40.0" height="6.0" rx="3.0" fill="#555" opacity="0.09" filter="url(#bl2)"/>
<rect x="1354" y="89.4" width="383" height="462.3" fill="none" stroke="#0d0d0d" stroke-width="4.5"/>
<text x="1300.3" y="167.3" font-size="20.5" text-anchor="end" fill="#111" >250</text>
<rect x="1310" y="160.2" width="33.0" height="3.8" fill="#0d0d0d"/>
<text x="1300.3" y="213.1" font-size="20.5" text-anchor="end" fill="#111" >150</text>
<rect x="1310" y="206.0" width="33.0" height="3.8" fill="#0d0d0d"/>
<text x="1300.3" y="250.9" font-size="20.5" text-anchor="end" fill="#111" >100</text>
<rect x="1310" y="243.8" width="33.0" height="3.8" fill="#0d0d0d"/>
<text x="1300.3" y="284.1" font-size="20.5" text-anchor="end" fill="#111" >75</text>
<rect x="1310" y="277.0" width="33.0" height="3.8" fill="#0d0d0d"/>
<text x="1300.3" y="325.9" font-size="20.5" text-anchor="end" fill="#111" >50</text>
<rect x="1310" y="318.8" width="33.0" height="3.8" fill="#0d0d0d"/>
<text x="1300.3" y="359.1" font-size="20.5" text-anchor="end" fill="#111" >37</text>
<rect x="1310" y="352.0" width="33.0" height="3.8" fill="#0d0d0d"/>
<text x="1300.3" y="396.6" font-size="20.5" text-anchor="end" fill="#111" >25</text>
<rect x="1310" y="389.5" width="33.0" height="3.8" fill="#0d0d0d"/>
<text x="1300.3" y="421.6" font-size="20.5" text-anchor="end" fill="#111" >20</text>
<rect x="1310" y="414.5" width="33.0" height="3.8" fill="#0d0d0d"/>
<text x="1300.3" y="450.9" font-size="20.5" text-anchor="end" fill="#111" >15</text>
<rect x="1310" y="443.8" width="33.0" height="3.8" fill="#0d0d0d"/>
<text x="1300.3" y="475.9" font-size="20.5" text-anchor="end" fill="#111" >10</text>
<rect x="1310" y="468.8" width="33.0" height="3.8" fill="#0d0d0d"/>
<text x="1300.3" y="496.6" font-size="20.5" text-anchor="end" fill="#111" >5</text>
<rect x="1310" y="489.5" width="33.0" height="3.8" fill="#0d0d0d"/>
<text x="1249.0" y="119.8" font-size="29" text-anchor="start" fill="#111" >kDa</text>
<use href="#arrowL" x="1746.8" y="294.5"/>
<use href="#arrowL" x="1746.8" y="344.6"/>
<text x="1754.5" y="77.8" font-size="29" text-anchor="start" fill="#111" >1. Blank MV</text>
<text x="1754.5" y="112.9" font-size="29" text-anchor="start" fill="#111" >2. Blank Exo</text>
<text x="1754.5" y="148.0" font-size="29" text-anchor="start" fill="#111" >3. PDGFR scFv display MV</text>
<text x="1754.5" y="183.2" font-size="29" text-anchor="start" fill="#111" >4. PDGFR scFv display Exo</text>
<text x="1754.5" y="218.3" font-size="29" text-anchor="start" fill="#111" >5. C1C2 scFv display MV</text>
<text x="1754.5" y="253.4" font-size="29" text-anchor="start" fill="#111" >6. C1C2 scFv display Exo</text>
<text x="0.5" y="626.0" font-size="26" text-anchor="start" font-weight="bold" fill="#000" >d</text>
<rect x="208.2" y="1103.0" width="45.6" height="18.9" fill="#bf95e9"/>
<rect x="389.7" y="972.5" width="45.5" height="149.4" fill="#bf95e9"/>
<rect x="457.7" y="1101.2" width="45.6" height="20.7" fill="#6214a3"/>
<rect x="571.4" y="953.6" width="45.5" height="168.3" fill="#bf95e9"/>
<rect x="639.4" y="798.2" width="45.6" height="323.7" fill="#6214a3"/>
<path d="M185.8,651.6 V1124.0 M165.9,1121.9 H718" stroke="#0d0d0d" stroke-width="4.4" fill="none"/>
<path d="M165.9,653.8 H186" stroke="#0d0d0d" stroke-width="4.4"/>
<text x="155.5" y="661.9" font-size="29" text-anchor="end" fill="#111" >1500</text>
<path d="M165.9,809.9 H186" stroke="#0d0d0d" stroke-width="4.4"/>
<text x="155.5" y="818.0" font-size="29" text-anchor="end" fill="#111" >1000</text>
<path d="M165.9,966 H186" stroke="#0d0d0d" stroke-width="4.4"/>
<text x="155.5" y="974.1" font-size="29" text-anchor="end" fill="#111" >500</text>
<path d="M165.9,1121.9 H186" stroke="#0d0d0d" stroke-width="4.4"/>
<text x="155.5" y="1130.0" font-size="29" text-anchor="end" fill="#111" >0</text>
<text transform="translate(38.2 889) rotate(-90)" font-size="29" text-anchor="middle" fill="#111">Mean cellular dTomato fluorescence</text>
<text transform="translate(70.4 889) rotate(-90)" font-size="29" text-anchor="middle" fill="#111">(background subtracted)</text>
<path d="M219.2,1101.3 H242.8 M219.2,1105.3 H242.8 M231.0,1101.3 V1105.3" stroke="#0d0d0d" stroke-width="4.3" fill="none"/>
<circle cx="217.1" cy="1106.3" r="4.7" fill="#6e6e6e"/>
<circle cx="231.0" cy="1100.7" r="4.7" fill="#6e6e6e"/>
<circle cx="244.9" cy="1101.8" r="4.7" fill="#6e6e6e"/>
<circle cx="285.2" cy="1119.9" r="4.7" fill="#6e6e6e"/>
<circle cx="299.1" cy="1119.9" r="4.7" fill="#6e6e6e"/>
<circle cx="313.0" cy="1119.9" r="4.7" fill="#6e6e6e"/>
<path d="M401.4,952.1 H423.4 M401.4,993.2 H423.4 M412.4,952.1 V993.2" stroke="#0d0d0d" stroke-width="4.3" fill="none"/>
<circle cx="412.4" cy="931.1" r="4.7" fill="#6e6e6e"/>
<circle cx="425.8" cy="988.2" r="4.7" fill="#6e6e6e"/>
<circle cx="398.8" cy="995.6" r="4.7" fill="#6e6e6e"/>
<path d="M469.5,1097.4 H491.5 M469.5,1104.8 H491.5 M480.5,1097.4 V1104.8" stroke="#0d0d0d" stroke-width="4.3" fill="none"/>
<circle cx="480.5" cy="1093.8" r="4.7" fill="#6e6e6e"/>
<circle cx="466.9" cy="1105.1" r="4.7" fill="#6e6e6e"/>
<circle cx="493.8" cy="1104.2" r="4.7" fill="#6e6e6e"/>
<path d="M583.1,940.8 H605.1 M583.1,965.7 H605.1 M594.1,940.8 V965.7" stroke="#0d0d0d" stroke-width="4.3" fill="none"/>
<circle cx="594.1" cy="929.6" r="4.7" fill="#6e6e6e"/>
<circle cx="606.3" cy="958.6" r="4.7" fill="#6e6e6e"/>
<circle cx="581.4" cy="971.0" r="4.7" fill="#6e6e6e"/>
<path d="M650.9,786.1 H672.9 M650.9,809.0 H672.9 M661.9,786.1 V809.0" stroke="#0d0d0d" stroke-width="4.3" fill="none"/>
<circle cx="662.1" cy="777.4" r="4.7" fill="#6e6e6e"/>
<circle cx="674.5" cy="795.4" r="4.7" fill="#6e6e6e"/>
<circle cx="649.5" cy="817.1" r="4.7" fill="#6e6e6e"/>
<rect x="199.9" y="741.4" width="83.4" height="30.7" fill="#8ed6f2"/>
<text x="202.3" y="766.1" font-size="29" text-anchor="start" fill="#111" >Jurkat</text>
<rect x="199.9" y="796.3" width="24.2" height="24.6" fill="#bf95e9"/>
<text x="232.0" y="819.6" font-size="29" text-anchor="start" fill="#111" >MV</text>
<rect x="199.9" y="839.1" width="24.2" height="24.9" fill="#6214a3"/>
<text x="232.6" y="862.9" font-size="29" text-anchor="start" fill="#111" >Exo</text>
<path d="M414.9,787.5 H594 M483.1,754.1 H662.1" stroke="#0d0d0d" stroke-width="4.3"/>
<text x="504.8" y="780.3" font-size="29" text-anchor="middle" fill="#111" >ns</text>
<text x="572.8" y="751.5" font-size="29" text-anchor="middle" fill="#111" >***</text>
<text x="265.3" y="1156.9" font-size="29" text-anchor="middle" fill="#111" >Non-</text>
<text x="265.3" y="1191.6" font-size="29" text-anchor="middle" fill="#111" >targeted</text>
<text x="446.2" y="1156.9" font-size="29" text-anchor="middle" fill="#111" >PDGFR</text>
<text x="446.2" y="1191.6" font-size="29" text-anchor="middle" fill="#111" >display</text>
<text x="627.8" y="1156.9" font-size="29" text-anchor="middle" fill="#111" >C1C2</text>
<text x="627.8" y="1191.6" font-size="29" text-anchor="middle" fill="#111" >display</text>
<use href="#miniTM" x="434" y="676.5"/>
<use href="#miniBlue" x="617.3" y="676.5"/>
<use href="#rec" transform="translate(247.8 1343.2) rotate(-86) translate(33 0)"/>
<use href="#rec" transform="translate(247.8 1343.2) rotate(-35) translate(33 0)"/>
<use href="#rec" transform="translate(247.8 1343.2) rotate(29) translate(33 0)"/>
<use href="#rec" transform="translate(247.8 1343.2) rotate(86) translate(33 0)"/>
<use href="#rec" transform="translate(247.8 1343.2) rotate(152) translate(33 0)"/>
<use href="#rec" transform="translate(247.8 1343.2) rotate(-145) translate(33 0)"/>
<path d="M282.0,1343.2 Q285.3,1345.2 281.8,1346.8 Q279.0,1348.1 281.3,1350.3 Q284.1,1352.9 280.3,1353.8 Q277.3,1354.5 279.0,1357.1 Q281.3,1360.3 277.4,1360.3 Q274.3,1360.4 275.5,1363.3 Q277.0,1366.9 273.2,1366.1 Q270.1,1365.5 270.7,1368.6 Q271.5,1372.4 267.9,1370.9 Q265.0,1369.7 264.9,1372.8 Q264.9,1376.7 261.7,1374.4 Q259.1,1372.7 258.4,1375.7 Q257.5,1379.5 254.9,1376.7 Q252.7,1374.4 251.4,1377.2 Q249.8,1380.7 247.8,1377.4 Q246.1,1374.8 244.2,1377.2 Q241.9,1380.3 240.7,1376.7 Q239.6,1373.7 237.2,1375.7 Q234.3,1378.3 233.9,1374.4 Q233.5,1371.4 230.7,1372.8 Q227.3,1374.7 227.7,1370.9 Q227.9,1367.8 224.9,1368.6 Q221.2,1369.8 222.4,1366.1 Q223.2,1363.1 220.1,1363.3 Q216.3,1363.7 218.2,1360.3 Q219.6,1357.5 216.6,1357.1 Q212.7,1356.7 215.3,1353.8 Q217.3,1351.4 214.3,1350.3 Q210.7,1349.1 213.8,1346.8 Q216.2,1344.9 213.6,1343.2 Q210.3,1341.2 213.8,1339.6 Q216.6,1338.3 214.3,1336.1 Q211.5,1333.5 215.3,1332.6 Q218.3,1331.9 216.6,1329.3 Q214.3,1326.1 218.2,1326.1 Q221.3,1326.0 220.1,1323.1 Q218.6,1319.5 222.4,1320.3 Q225.5,1320.9 224.9,1317.8 Q224.1,1314.0 227.7,1315.5 Q230.6,1316.7 230.7,1313.6 Q230.7,1309.7 233.9,1312.0 Q236.5,1313.7 237.2,1310.7 Q238.1,1306.9 240.7,1309.7 Q242.9,1312.0 244.2,1309.2 Q245.8,1305.7 247.8,1309.0 Q249.5,1311.6 251.4,1309.2 Q253.7,1306.1 254.9,1309.7 Q256.0,1312.7 258.4,1310.7 Q261.3,1308.1 261.7,1312.0 Q262.1,1315.0 264.9,1313.6 Q268.3,1311.7 267.9,1315.5 Q267.7,1318.6 270.7,1317.8 Q274.4,1316.6 273.2,1320.3 Q272.4,1323.3 275.5,1323.1 Q279.3,1322.7 277.4,1326.1 Q276.0,1328.9 279.0,1329.3 Q282.9,1329.7 280.3,1332.6 Q278.3,1335.0 281.3,1336.1 Q284.9,1337.3 281.8,1339.6 Q279.4,1341.5 282.0,1343.2 Z" fill="url(#gCell)" stroke="#101820" stroke-width="2.3" stroke-linejoin="round"/>
<circle cx="253.7" cy="1345.5" r="6.6" fill="#1a1416"/>
<circle cx="223.0" cy="1297.6" r="11.1" fill="url(#gEV)" stroke="#1a1416" stroke-width="1.4"/>
<circle cx="282.2" cy="1398.8" r="11.1" fill="url(#gEV)" stroke="#1a1416" stroke-width="1.4"/>
<use href="#rec" transform="translate(444.3 1343.2) rotate(-86) translate(33 0)"/>
<use href="#rec" transform="translate(444.3 1343.2) rotate(-35) translate(33 0)"/>
<use href="#rec" transform="translate(444.3 1343.2) rotate(29) translate(33 0)"/>
<use href="#rec" transform="translate(444.3 1343.2) rotate(86) translate(33 0)"/>
<use href="#rec" transform="translate(444.3 1343.2) rotate(152) translate(33 0)"/>
<use href="#rec" transform="translate(444.3 1343.2) rotate(-145) translate(33 0)"/>
<path d="M478.5,1343.2 Q481.8,1345.2 478.3,1346.8 Q475.5,1348.1 477.8,1350.3 Q480.6,1352.9 476.8,1353.8 Q473.8,1354.5 475.5,1357.1 Q477.8,1360.3 473.9,1360.3 Q470.8,1360.4 472.0,1363.3 Q473.5,1366.9 469.7,1366.1 Q466.6,1365.5 467.2,1368.6 Q468.0,1372.4 464.4,1370.9 Q461.5,1369.7 461.4,1372.8 Q461.4,1376.7 458.2,1374.4 Q455.6,1372.7 454.9,1375.7 Q454.0,1379.5 451.4,1376.7 Q449.2,1374.4 447.9,1377.2 Q446.3,1380.7 444.3,1377.4 Q442.6,1374.8 440.7,1377.2 Q438.4,1380.3 437.2,1376.7 Q436.1,1373.7 433.7,1375.7 Q430.8,1378.3 430.4,1374.4 Q430.0,1371.4 427.2,1372.8 Q423.8,1374.7 424.2,1370.9 Q424.4,1367.8 421.4,1368.6 Q417.7,1369.8 418.9,1366.1 Q419.7,1363.1 416.6,1363.3 Q412.8,1363.7 414.7,1360.3 Q416.1,1357.5 413.1,1357.1 Q409.2,1356.7 411.8,1353.8 Q413.8,1351.4 410.8,1350.3 Q407.2,1349.1 410.3,1346.8 Q412.7,1344.9 410.1,1343.2 Q406.8,1341.2 410.3,1339.6 Q413.1,1338.3 410.8,1336.1 Q408.0,1333.5 411.8,1332.6 Q414.8,1331.9 413.1,1329.3 Q410.8,1326.1 414.7,1326.1 Q417.8,1326.0 416.6,1323.1 Q415.1,1319.5 418.9,1320.3 Q422.0,1320.9 421.4,1317.8 Q420.6,1314.0 424.2,1315.5 Q427.1,1316.7 427.2,1313.6 Q427.2,1309.7 430.4,1312.0 Q433.0,1313.7 433.7,1310.7 Q434.6,1306.9 437.2,1309.7 Q439.4,1312.0 440.7,1309.2 Q442.3,1305.7 444.3,1309.0 Q446.0,1311.6 447.9,1309.2 Q450.2,1306.1 451.4,1309.7 Q452.5,1312.7 454.9,1310.7 Q457.8,1308.1 458.2,1312.0 Q458.6,1315.0 461.4,1313.6 Q464.8,1311.7 464.4,1315.5 Q464.2,1318.6 467.2,1317.8 Q470.9,1316.6 469.7,1320.3 Q468.9,1323.3 472.0,1323.1 Q475.8,1322.7 473.9,1326.1 Q472.5,1328.9 475.5,1329.3 Q479.4,1329.7 476.8,1332.6 Q474.8,1335.0 477.8,1336.1 Q481.4,1337.3 478.3,1339.6 Q475.9,1341.5 478.5,1343.2 Z" fill="url(#gCell)" stroke="#101820" stroke-width="2.3" stroke-linejoin="round"/>
<circle cx="450.2" cy="1345.5" r="6.6" fill="#1a1416"/>
<use href="#evab" transform="translate(474.1 1289.4) rotate(-61) translate(11.6 0)"/>
<use href="#evab" transform="translate(474.1 1289.4) rotate(177) translate(11.6 0)"/>
<use href="#evab" transform="translate(474.1 1289.4) rotate(55) translate(11.6 0)"/>
<circle cx="474.1" cy="1289.4" r="11.1" fill="url(#gEV)" stroke="#1a1416" stroke-width="1.4"/>
<use href="#evab" transform="translate(391.6 1328.6) rotate(-65) translate(11.6 0)"/>
<use href="#evab" transform="translate(391.6 1328.6) rotate(180) translate(11.6 0)"/>
<use href="#evab" transform="translate(391.6 1328.6) rotate(57) translate(11.6 0)"/>
<circle cx="391.6" cy="1328.6" r="11.1" fill="url(#gEV)" stroke="#1a1416" stroke-width="1.4"/>
<use href="#evab" transform="translate(469.2 1398.0) rotate(-133) translate(11.6 0)"/>
<use href="#evab" transform="translate(469.2 1398.0) rotate(-14) translate(11.6 0)"/>
<use href="#evab" transform="translate(469.2 1398.0) rotate(107) translate(11.6 0)"/>
<circle cx="469.2" cy="1398.0" r="11.1" fill="url(#gEV)" stroke="#1a1416" stroke-width="1.4"/>
<use href="#rec" transform="translate(610.3 1343.0) rotate(-86) translate(33 0)"/>
<use href="#rec" transform="translate(610.3 1343.0) rotate(-35) translate(33 0)"/>
<use href="#rec" transform="translate(610.3 1343.0) rotate(29) translate(33 0)"/>
<use href="#rec" transform="translate(610.3 1343.0) rotate(86) translate(33 0)"/>
<use href="#rec" transform="translate(610.3 1343.0) rotate(152) translate(33 0)"/>
<use href="#rec" transform="translate(610.3 1343.0) rotate(-145) translate(33 0)"/>
<path d="M644.5,1343.0 Q647.8,1345.0 644.3,1346.6 Q641.5,1347.9 643.8,1350.1 Q646.6,1352.7 642.8,1353.6 Q639.8,1354.3 641.5,1356.9 Q643.8,1360.1 639.9,1360.1 Q636.8,1360.2 638.0,1363.1 Q639.5,1366.7 635.7,1365.9 Q632.6,1365.3 633.2,1368.4 Q634.0,1372.2 630.4,1370.7 Q627.5,1369.5 627.4,1372.6 Q627.4,1376.5 624.2,1374.2 Q621.6,1372.5 620.9,1375.5 Q620.0,1379.3 617.4,1376.5 Q615.2,1374.2 613.9,1377.0 Q612.3,1380.5 610.3,1377.2 Q608.6,1374.6 606.7,1377.0 Q604.4,1380.1 603.2,1376.5 Q602.1,1373.5 599.7,1375.5 Q596.8,1378.1 596.4,1374.2 Q596.0,1371.2 593.2,1372.6 Q589.8,1374.5 590.2,1370.7 Q590.4,1367.6 587.4,1368.4 Q583.7,1369.6 584.9,1365.9 Q585.7,1362.9 582.6,1363.1 Q578.8,1363.5 580.7,1360.1 Q582.1,1357.3 579.1,1356.9 Q575.2,1356.5 577.8,1353.6 Q579.8,1351.2 576.8,1350.1 Q573.2,1348.9 576.3,1346.6 Q578.7,1344.7 576.1,1343.0 Q572.8,1341.0 576.3,1339.4 Q579.1,1338.1 576.8,1335.9 Q574.0,1333.3 577.8,1332.4 Q580.8,1331.7 579.1,1329.1 Q576.8,1325.9 580.7,1325.9 Q583.8,1325.8 582.6,1322.9 Q581.1,1319.3 584.9,1320.1 Q588.0,1320.7 587.4,1317.6 Q586.6,1313.8 590.2,1315.3 Q593.1,1316.5 593.2,1313.4 Q593.2,1309.5 596.4,1311.8 Q599.0,1313.5 599.7,1310.5 Q600.6,1306.7 603.2,1309.5 Q605.4,1311.8 606.7,1309.0 Q608.3,1305.5 610.3,1308.8 Q612.0,1311.4 613.9,1309.0 Q616.2,1305.9 617.4,1309.5 Q618.5,1312.5 620.9,1310.5 Q623.8,1307.9 624.2,1311.8 Q624.6,1314.8 627.4,1313.4 Q630.8,1311.5 630.4,1315.3 Q630.2,1318.4 633.2,1317.6 Q636.9,1316.4 635.7,1320.1 Q634.9,1323.1 638.0,1322.9 Q641.8,1322.5 639.9,1325.9 Q638.5,1328.7 641.5,1329.1 Q645.4,1329.5 642.8,1332.4 Q640.8,1334.8 643.8,1335.9 Q647.4,1337.1 644.3,1339.4 Q641.9,1341.3 644.5,1343.0 Z" fill="url(#gCell)" stroke="#101820" stroke-width="2.3" stroke-linejoin="round"/>
<circle cx="616.2" cy="1345.3" r="6.6" fill="#1a1416"/>
<circle cx="573.1" cy="1280.2" r="11.1" fill="url(#gEV)" stroke="#1a1416" stroke-width="1.4"/>
<circle cx="644.7" cy="1402.4" r="11.1" fill="url(#gEV)" stroke="#1a1416" stroke-width="1.4"/>
<use href="#rec" transform="translate(805.0 1343.0) rotate(-86) translate(33 0)"/>
<use href="#rec" transform="translate(805.0 1343.0) rotate(-35) translate(33 0)"/>
<use href="#rec" transform="translate(805.0 1343.0) rotate(29) translate(33 0)"/>
<use href="#rec" transform="translate(805.0 1343.0) rotate(86) translate(33 0)"/>
<use href="#rec" transform="translate(805.0 1343.0) rotate(152) translate(33 0)"/>
<use href="#rec" transform="translate(805.0 1343.0) rotate(-145) translate(33 0)"/>
<path d="M839.2,1343.0 Q842.5,1345.0 839.0,1346.6 Q836.2,1347.9 838.5,1350.1 Q841.3,1352.7 837.5,1353.6 Q834.5,1354.3 836.2,1356.9 Q838.5,1360.1 834.6,1360.1 Q831.5,1360.2 832.7,1363.1 Q834.2,1366.7 830.4,1365.9 Q827.3,1365.3 827.9,1368.4 Q828.7,1372.2 825.1,1370.7 Q822.2,1369.5 822.1,1372.6 Q822.1,1376.5 818.9,1374.2 Q816.3,1372.5 815.6,1375.5 Q814.7,1379.3 812.1,1376.5 Q809.9,1374.2 808.6,1377.0 Q807.0,1380.5 805.0,1377.2 Q803.3,1374.6 801.4,1377.0 Q799.1,1380.1 797.9,1376.5 Q796.8,1373.5 794.4,1375.5 Q791.5,1378.1 791.1,1374.2 Q790.7,1371.2 787.9,1372.6 Q784.5,1374.5 784.9,1370.7 Q785.1,1367.6 782.1,1368.4 Q778.4,1369.6 779.6,1365.9 Q780.4,1362.9 777.3,1363.1 Q773.5,1363.5 775.4,1360.1 Q776.8,1357.3 773.8,1356.9 Q769.9,1356.5 772.5,1353.6 Q774.5,1351.2 771.5,1350.1 Q767.9,1348.9 771.0,1346.6 Q773.4,1344.7 770.8,1343.0 Q767.5,1341.0 771.0,1339.4 Q773.8,1338.1 771.5,1335.9 Q768.7,1333.3 772.5,1332.4 Q775.5,1331.7 773.8,1329.1 Q771.5,1325.9 775.4,1325.9 Q778.5,1325.8 777.3,1322.9 Q775.8,1319.3 779.6,1320.1 Q782.7,1320.7 782.1,1317.6 Q781.3,1313.8 784.9,1315.3 Q787.8,1316.5 787.9,1313.4 Q787.9,1309.5 791.1,1311.8 Q793.7,1313.5 794.4,1310.5 Q795.3,1306.7 797.9,1309.5 Q800.1,1311.8 801.4,1309.0 Q803.0,1305.5 805.0,1308.8 Q806.7,1311.4 808.6,1309.0 Q810.9,1305.9 812.1,1309.5 Q813.2,1312.5 815.6,1310.5 Q818.5,1307.9 818.9,1311.8 Q819.3,1314.8 822.1,1313.4 Q825.5,1311.5 825.1,1315.3 Q824.9,1318.4 827.9,1317.6 Q831.6,1316.4 830.4,1320.1 Q829.6,1323.1 832.7,1322.9 Q836.5,1322.5 834.6,1325.9 Q833.2,1328.7 836.2,1329.1 Q840.1,1329.5 837.5,1332.4 Q835.5,1334.8 838.5,1335.9 Q842.1,1337.1 839.0,1339.4 Q836.6,1341.3 839.2,1343.0 Z" fill="url(#gCell)" stroke="#101820" stroke-width="2.3" stroke-linejoin="round"/>
<circle cx="810.9" cy="1345.3" r="6.6" fill="#1a1416"/>
<use href="#evab" transform="translate(848.6 1274.7) rotate(-90) translate(11.6 0)"/>
<use href="#evab" transform="translate(848.6 1274.7) rotate(150) translate(11.6 0)"/>
<use href="#evab" transform="translate(848.6 1274.7) rotate(30) translate(11.6 0)"/>
<circle cx="848.6" cy="1274.7" r="11.1" fill="url(#gEV)" stroke="#1a1416" stroke-width="1.4"/>
<use href="#evab" transform="translate(728.6 1326.1) rotate(-90) translate(11.6 0)"/>
<use href="#evab" transform="translate(728.6 1326.1) rotate(150) translate(11.6 0)"/>
<use href="#evab" transform="translate(728.6 1326.1) rotate(30) translate(11.6 0)"/>
<circle cx="728.6" cy="1326.1" r="11.1" fill="url(#gEV)" stroke="#1a1416" stroke-width="1.4"/>
<use href="#evab" transform="translate(852.3 1409.7) rotate(-130) translate(11.6 0)"/>
<use href="#evab" transform="translate(852.3 1409.7) rotate(-12) translate(11.6 0)"/>
<use href="#evab" transform="translate(852.3 1409.7) rotate(100) translate(11.6 0)"/>
<circle cx="852.3" cy="1409.7" r="11.1" fill="url(#gEV)" stroke="#1a1416" stroke-width="1.4"/>
<use href="#yab" transform="translate(610.3 1343.0) rotate(-83) translate(62.5 0) rotate(180)"/>
<use href="#yab" transform="translate(610.3 1343.0) rotate(-29) translate(62.5 0) rotate(180)"/>
<use href="#yab" transform="translate(610.3 1343.0) rotate(26) translate(62.5 0) rotate(180)"/>
<use href="#yab" transform="translate(610.3 1343.0) rotate(91) translate(62.5 0) rotate(180)"/>
<use href="#yab" transform="translate(610.3 1343.0) rotate(158) translate(62.5 0) rotate(180)"/>
<use href="#yab" transform="translate(610.3 1343.0) rotate(-149) translate(62.5 0) rotate(180)"/>
<use href="#yab" transform="translate(805.0 1343.0) rotate(-83) translate(62.5 0) rotate(180)"/>
<use href="#yab" transform="translate(805.0 1343.0) rotate(-29) translate(62.5 0) rotate(180)"/>
<use href="#yab" transform="translate(805.0 1343.0) rotate(26) translate(62.5 0) rotate(180)"/>
<use href="#yab" transform="translate(805.0 1343.0) rotate(91) translate(62.5 0) rotate(180)"/>
<use href="#yab" transform="translate(805.0 1343.0) rotate(158) translate(62.5 0) rotate(180)"/>
<use href="#yab" transform="translate(805.0 1343.0) rotate(-149) translate(62.5 0) rotate(180)"/>
<text x="0.3" y="1265.7" font-size="26" text-anchor="start" font-weight="bold" fill="#000" >f</text>
<rect x="192.3" y="1775.3" width="45.8" height="107.4" fill="#bf95e9"/>
<rect x="260.2" y="1861.4" width="45.8" height="21.3" fill="#6214a3"/>
<rect x="373.0" y="1500.0" width="45.4" height="382.7" fill="#bf95e9"/>
<rect x="440.9" y="1485.7" width="45.4" height="397.0" fill="#6214a3"/>
<rect x="553.7" y="1813.3" width="45.8" height="69.4" fill="#bf95e9"/>
<rect x="621.6" y="1866.5" width="45.7" height="16.2" fill="#6214a3"/>
<rect x="734.0" y="1703.2" width="45.8" height="179.5" fill="#bf95e9"/>
<rect x="802.3" y="1734.2" width="45.3" height="148.5" fill="#6214a3"/>
<path d="M169.8,1414.3 V1884.9 M149.7,1882.7 H872.2" stroke="#0d0d0d" stroke-width="4.5" fill="none"/>
<path d="M149.7,1882.7 H170" stroke="#0d0d0d" stroke-width="4.5"/>
<text x="139.3" y="1890.3" font-size="29" text-anchor="end" fill="#111" >0</text>
<path d="M149.7,1789.3 H170" stroke="#0d0d0d" stroke-width="4.5"/>
<text x="139.3" y="1796.9" font-size="29" text-anchor="end" fill="#111" >100</text>
<path d="M149.7,1695.8 H170" stroke="#0d0d0d" stroke-width="4.5"/>
<text x="139.3" y="1703.4" font-size="29" text-anchor="end" fill="#111" >200</text>
<path d="M149.7,1602.4 H170" stroke="#0d0d0d" stroke-width="4.5"/>
<text x="139.3" y="1610.0" font-size="29" text-anchor="end" fill="#111" >300</text>
<path d="M149.7,1508.9 H170" stroke="#0d0d0d" stroke-width="4.5"/>
<text x="139.3" y="1516.5" font-size="29" text-anchor="end" fill="#111" >400</text>
<path d="M149.7,1415.5 H170" stroke="#0d0d0d" stroke-width="4.5"/>
<text x="139.3" y="1423.1" font-size="29" text-anchor="end" fill="#111" >500</text>
<text transform="translate(37 1648) rotate(-90)" font-size="29" text-anchor="middle" fill="#111">Mean cellular dTomato fluorescence</text>
<text transform="translate(69.2 1648) rotate(-90)" font-size="29" text-anchor="middle" fill="#111">(background subtracted)</text>
<path d="M204.7,1761.8 H225.7 M204.7,1787.7 H225.7 M215.2,1761.8 V1787.7" stroke="#0d0d0d" stroke-width="4.3" fill="none"/>
<circle cx="215.6" cy="1758.7" r="4.7" fill="#6e6e6e"/>
<circle cx="228.4" cy="1763.7" r="4.7" fill="#6e6e6e"/>
<circle cx="202.4" cy="1800.2" r="4.7" fill="#6e6e6e"/>
<path d="M272.7,1860.3 H293.7 M272.7,1861.5 H293.7 M283.2,1860.3 V1861.5" stroke="#0d0d0d" stroke-width="3.5" fill="none"/>
<circle cx="269.5" cy="1860.6" r="4.7" fill="#6e6e6e"/>
<circle cx="283.5" cy="1860.3" r="4.7" fill="#6e6e6e"/>
<circle cx="297.0" cy="1861.0" r="4.7" fill="#6e6e6e"/>
<path d="M385.4,1490.0 H406.4 M385.4,1510.5 H406.4 M395.9,1490.0 V1510.5" stroke="#0d0d0d" stroke-width="4.3" fill="none"/>
<circle cx="395.9" cy="1478.7" r="4.7" fill="#6e6e6e"/>
<circle cx="409.5" cy="1505.9" r="4.7" fill="#6e6e6e"/>
<circle cx="382.3" cy="1510.9" r="4.7" fill="#6e6e6e"/>
<path d="M453.3,1468.6 H474.3 M453.3,1502.8 H474.3 M463.8,1468.6 V1502.8" stroke="#0d0d0d" stroke-width="4.3" fill="none"/>
<circle cx="463.8" cy="1451.2" r="4.7" fill="#6e6e6e"/>
<circle cx="476.2" cy="1490.3" r="4.7" fill="#6e6e6e"/>
<circle cx="451.4" cy="1509.7" r="4.7" fill="#6e6e6e"/>
<path d="M566.1,1787.0 H587.1 M566.1,1838.9 H587.1 M576.6,1787.0 V1838.9" stroke="#0d0d0d" stroke-width="4.3" fill="none"/>
<circle cx="576.6" cy="1771.5" r="4.7" fill="#6e6e6e"/>
<circle cx="589.0" cy="1805.2" r="4.7" fill="#6e6e6e"/>
<circle cx="563.8" cy="1859.9" r="4.7" fill="#6e6e6e"/>
<path d="M633.5,1863.4 H654.5 M633.5,1870.0 H654.5 M644.0,1863.4 V1870.0" stroke="#0d0d0d" stroke-width="3.6" fill="none"/>
<circle cx="644.0" cy="1862.2" r="4.7" fill="#6e6e6e"/>
<circle cx="657.7" cy="1865.3" r="4.7" fill="#6e6e6e"/>
<circle cx="630.9" cy="1870.0" r="4.7" fill="#6e6e6e"/>
<path d="M746.4,1677.2 H767.4 M746.4,1728.4 H767.4 M756.9,1677.2 V1728.4" stroke="#0d0d0d" stroke-width="4.3" fill="none"/>
<circle cx="756.9" cy="1667.5" r="4.7" fill="#6e6e6e"/>
<circle cx="769.3" cy="1686.5" r="4.7" fill="#6e6e6e"/>
<circle cx="744.1" cy="1752.1" r="4.7" fill="#6e6e6e"/>
<path d="M814.3,1674.1 H835.3 M814.3,1794.7 H835.3 M824.8,1674.1 V1794.7" stroke="#0d0d0d" stroke-width="4.3" fill="none"/>
<circle cx="824.8" cy="1632.6" r="4.7" fill="#6e6e6e"/>
<circle cx="837.2" cy="1724.5" r="4.7" fill="#6e6e6e"/>
<circle cx="812.4" cy="1842.0" r="4.7" fill="#6e6e6e"/>
<rect x="184" y="1504.1" width="83.4" height="29.8" fill="#8ed6f2"/>
<text x="186.9" y="1527.9" font-size="29" text-anchor="start" fill="#111" >Jurkat</text>
<rect x="184" y="1558.4" width="24.5" height="24.3" fill="#bf95e9"/>
<text x="216.4" y="1581.5" font-size="29" text-anchor="start" fill="#111" >MV</text>
<rect x="184" y="1600.1" width="24.5" height="25.5" fill="#6214a3"/>
<text x="217.0" y="1624.4" font-size="29" text-anchor="start" fill="#111" >Exo</text>
<path d="M578.9,1641.6 H757.3 M647.2,1608.2 H825.5" stroke="#0d0d0d" stroke-width="4.3"/>
<text x="668.1" y="1633.8" font-size="29" text-anchor="middle" fill="#111" >ns</text>
<text x="736.4" y="1597.8" font-size="29" text-anchor="middle" fill="#111" >ns</text>
<text x="249.3" y="1915.7" font-size="29" text-anchor="middle" fill="#111" >Non-</text>
<text x="249.0" y="1950.6" font-size="29" text-anchor="middle" fill="#111" >targeted</text>
<text x="429.6" y="1933.2" font-size="29" text-anchor="middle" fill="#111" >Targeted</text>
<text x="610.3" y="1915.7" font-size="29" text-anchor="middle" fill="#111" >Non-targeted</text>
<text x="610.3" y="1950.6" font-size="29" text-anchor="middle" fill="#111" >+ blocking</text>
<text x="791.4" y="1915.7" font-size="29" text-anchor="middle" fill="#111" >Targeted</text>
<text x="791.4" y="1950.6" font-size="29" text-anchor="middle" fill="#111" >+ blocking</text>
<path d="M963.8,756.7 L965.6,652.0 L966.4,703.7 L967.8,729.0 L966.6,742.4 L968.2,745.6 L970.4,746.2 L972.6,746.7 L974.8,746.6 L977.0,746.1 L979.2,745.2 L981.4,744.0 L983.6,742.7 L985.8,741.6 L988.0,740.5 L990.2,739.0 L992.4,737.4 L994.6,735.7 L996.8,734.0 L999.0,731.8 L1001.2,728.0 L1003.4,725.5 L1005.6,724.6 L1007.8,722.9 L1010.0,721.5 L1012.2,721.0 L1014.4,718.1 L1016.6,712.5 L1018.8,706.7 L1021.0,701.8 L1023.2,697.2 L1025.4,692.5 L1027.6,687.3 L1029.8,681.8 L1032.0,677.6 L1034.2,673.5 L1036.4,668.4 L1038.6,664.6 L1040.8,662.7 L1043.0,660.7 L1045.2,659.0 L1047.4,659.3 L1049.6,659.6 L1051.8,657.8 L1054.0,654.3 L1056.2,654.2 L1058.4,656.2 L1060.6,661.4 L1062.8,669.2 L1065.0,677.4 L1067.2,685.3 L1069.4,693.9 L1071.6,702.4 L1073.8,710.1 L1076.0,718.6 L1078.2,726.4 L1080.4,733.7 L1082.6,739.5 L1084.8,744.6 L1087.0,748.5 L1089.2,751.2 L1091.4,753.3 L1093.6,754.6 L1095.8,755.3 L1098.0,755.7 L1100.2,756.2 L1102.4,756.6 L1102.7,756.7 L1406.2,756.7" fill="#9b9b9b" stroke="#0d0d0d" stroke-width="3.8" stroke-linejoin="round" stroke-linecap="butt"/>
<path d="M963.8,867.1 L965.6,758.2 L966.4,815.7 L967.8,843.9 L966.6,859.2 L968.2,862.9 L970.4,863.2 L972.6,863.3 L974.8,863.1 L977.0,861.4 L979.2,859.1 L981.4,857.3 L983.6,855.8 L985.8,854.3 L988.0,853.4 L990.2,852.5 L992.4,851.2 L994.6,850.3 L996.8,849.1 L999.0,848.3 L1001.2,847.6 L1003.4,846.7 L1005.6,845.8 L1007.8,844.2 L1010.0,841.3 L1012.2,838.9 L1014.4,836.2 L1016.6,832.0 L1018.8,828.7 L1021.0,826.8 L1023.2,824.1 L1025.4,820.4 L1027.6,816.7 L1029.8,812.9 L1032.0,808.5 L1034.2,804.0 L1036.4,798.9 L1038.6,792.8 L1040.8,787.2 L1043.0,782.6 L1045.2,778.6 L1047.4,776.1 L1049.6,774.9 L1051.8,774.0 L1054.0,775.8 L1056.2,778.1 L1058.4,775.0 L1060.6,770.0 L1062.8,778.2 L1065.0,789.2 L1067.2,790.6 L1069.4,792.9 L1071.6,799.1 L1073.8,805.6 L1076.0,810.0 L1078.2,815.7 L1080.4,823.0 L1082.6,829.2 L1084.8,834.8 L1087.0,839.6 L1089.2,842.1 L1091.4,844.0 L1093.6,845.8 L1095.8,846.9 L1098.0,848.2 L1100.2,849.8 L1102.4,850.9 L1104.6,851.3 L1106.8,852.1 L1109.0,853.3 L1111.2,854.3 L1113.4,855.6 L1115.6,856.7 L1117.8,857.3 L1120.0,857.8 L1122.2,857.9 L1124.4,857.7 L1126.6,857.6 L1128.8,857.8 L1131.0,857.5 L1133.2,857.0 L1135.4,857.2 L1137.6,857.4 L1139.8,857.4 L1142.0,857.8 L1144.2,858.2 L1146.4,858.7 L1148.6,859.5 L1150.8,860.1 L1153.0,860.5 L1155.2,860.7 L1157.4,861.0 L1159.6,861.5 L1161.8,861.7 L1164.0,861.8 L1166.2,862.1 L1168.4,862.6 L1170.6,862.7 L1172.8,862.8 L1175.0,863.1 L1177.2,863.3 L1179.4,863.4 L1181.6,863.7 L1183.8,864.0 L1186.0,864.2 L1188.2,864.4 L1190.4,864.5 L1192.6,864.6 L1194.8,864.8 L1197.0,865.0 L1199.2,865.2 L1201.4,865.4 L1203.6,865.5 L1205.8,865.6 L1208.0,865.8 L1210.2,865.9 L1212.4,866.0 L1214.6,866.1 L1216.8,866.2 L1219.0,866.4 L1221.2,866.5 L1223.4,866.6 L1225.6,866.7 L1227.8,866.7 L1230.0,866.8 L1232.2,866.9 L1234.4,866.9 L1236.6,866.9 L1238.8,867.0 L1241.0,867.0 L1243.2,867.0 L1245.4,867.0 L1247.6,867.0 L1249.8,867.0 L1252.0,867.0 L1254.2,867.0 L1256.4,867.1 L1406.2,867.1" fill="#bf95e9" stroke="#0d0d0d" stroke-width="3.8" stroke-linejoin="round" stroke-linecap="butt"/>
<path d="M963.8,977.3 L965.6,868.6 L966.4,926.2 L967.8,954.4 L966.6,969.7 L968.2,973.4 L970.4,974.9 L972.6,976.1 L974.8,976.3 L977.0,976.2 L979.2,976.1 L981.4,975.8 L983.6,975.5 L985.8,975.2 L988.0,974.9 L990.2,974.6 L992.4,974.1 L994.6,973.4 L996.8,972.6 L999.0,971.9 L1001.2,971.2 L1003.4,970.3 L1005.6,969.7 L1007.8,969.2 L1010.0,968.8 L1012.2,968.4 L1014.4,967.7 L1016.6,966.6 L1018.8,965.9 L1021.0,965.2 L1023.2,963.6 L1025.4,961.6 L1027.6,960.4 L1029.8,958.9 L1032.0,956.5 L1034.2,953.8 L1036.4,950.9 L1038.6,948.7 L1040.8,945.8 L1043.0,940.4 L1045.2,934.2 L1047.4,930.2 L1049.6,928.7 L1051.8,926.9 L1054.0,925.3 L1056.2,924.2 L1058.4,921.8 L1060.6,915.7 L1062.8,907.5 L1065.0,902.9 L1067.2,899.9 L1069.4,896.9 L1071.6,894.2 L1073.8,893.1 L1076.0,894.0 L1078.2,893.2 L1080.4,887.9 L1082.6,883.6 L1084.8,885.7 L1087.0,891.9 L1089.2,891.1 L1091.4,890.1 L1093.6,891.0 L1095.8,893.8 L1098.0,897.9 L1100.2,900.5 L1102.4,902.0 L1104.6,903.1 L1106.8,903.5 L1109.0,905.5 L1111.2,908.8 L1113.4,912.9 L1115.6,917.6 L1117.8,921.9 L1120.0,926.5 L1122.2,931.1 L1124.4,934.9 L1126.6,937.0 L1128.8,938.5 L1131.0,940.9 L1133.2,942.6 L1135.4,942.5 L1137.6,943.3 L1139.8,945.4 L1142.0,946.9 L1144.2,948.2 L1146.4,950.3 L1148.6,951.6 L1150.8,950.7 L1153.0,950.1 L1155.2,950.8 L1157.4,951.8 L1159.6,952.7 L1161.8,954.1 L1164.0,956.4 L1166.2,958.6 L1168.4,960.0 L1170.6,961.9 L1172.8,963.6 L1175.0,964.5 L1177.2,965.5 L1179.4,966.5 L1181.6,967.0 L1183.8,967.0 L1186.0,966.9 L1188.2,966.8 L1190.4,966.8 L1192.6,966.9 L1194.8,966.8 L1197.0,966.7 L1199.2,967.3 L1201.4,968.1 L1203.6,968.6 L1205.8,968.9 L1208.0,969.4 L1210.2,969.9 L1212.4,970.3 L1214.6,970.6 L1216.8,970.8 L1219.0,971.1 L1221.2,971.7 L1223.4,972.0 L1225.6,972.2 L1227.8,972.4 L1230.0,972.6 L1232.2,972.8 L1234.4,973.1 L1236.6,973.2 L1238.8,973.3 L1241.0,973.5 L1243.2,973.7 L1245.4,973.7 L1247.6,973.8 L1249.8,973.9 L1252.0,974.0 L1254.2,974.1 L1256.4,974.2 L1258.6,974.3 L1260.8,974.3 L1263.0,974.3 L1265.2,974.3 L1267.4,974.5 L1269.6,974.6 L1271.8,974.7 L1274.0,974.8 L1276.2,974.7 L1278.4,974.7 L1280.6,974.8 L1282.8,974.9 L1285.0,974.9 L1287.2,975.1 L1289.4,975.2 L1291.6,975.3 L1293.8,975.4 L1296.0,975.4 L1298.2,975.4 L1300.4,975.4 L1302.6,975.5 L1304.8,975.6 L1307.0,975.6 L1309.2,975.7 L1311.4,975.7 L1313.6,975.8 L1315.8,975.9 L1318.0,976.0 L1320.2,976.0 L1322.4,976.0 L1324.6,976.1 L1326.8,976.2 L1329.0,976.3 L1331.2,976.3 L1333.4,976.4 L1335.6,976.4 L1337.8,976.5 L1340.0,976.5 L1342.2,976.6 L1344.4,976.6 L1346.6,976.7 L1348.8,976.7 L1351.0,976.7 L1353.2,976.8 L1355.4,976.8 L1357.6,976.9 L1359.8,976.9 L1362.0,976.9 L1364.2,977.0 L1366.4,977.0 L1368.6,977.0 L1370.8,977.0 L1373.0,977.1 L1375.2,977.1 L1377.4,977.1 L1379.6,977.1 L1381.8,977.1 L1384.0,977.2 L1386.2,977.2 L1388.4,977.2 L1390.6,977.2 L1391.5,977.2 L1406.2,977.3" fill="#bf95e9" stroke="#0d0d0d" stroke-width="3.8" stroke-linejoin="round" stroke-linecap="butt"/>
<path d="M963.8,1087.6 L965.6,978.8 L966.4,1036.6 L967.8,1064.9 L966.6,1080.3 L968.2,1083.7 L970.4,1085.0 L972.6,1086.1 L974.8,1086.3 L977.0,1086.3 L979.2,1086.3 L981.4,1086.3 L983.6,1086.2 L985.8,1086.2 L988.0,1086.2 L990.2,1086.2 L992.4,1086.2 L994.6,1086.2 L996.8,1086.1 L999.0,1086.0 L1001.2,1086.0 L1003.4,1086.0 L1005.6,1086.0 L1007.8,1085.9 L1010.0,1085.8 L1012.2,1085.6 L1014.4,1085.3 L1016.6,1085.2 L1018.8,1085.0 L1021.0,1084.7 L1023.2,1084.3 L1025.4,1084.0 L1027.6,1083.6 L1029.8,1083.1 L1032.0,1082.5 L1034.2,1081.9 L1036.4,1081.2 L1038.6,1080.4 L1040.8,1079.5 L1043.0,1078.8 L1045.2,1077.7 L1047.4,1076.4 L1049.6,1075.1 L1051.8,1073.6 L1054.0,1071.8 L1056.2,1070.0 L1058.4,1068.1 L1060.6,1065.6 L1062.8,1062.5 L1065.0,1059.8 L1067.2,1057.8 L1069.4,1056.5 L1071.6,1054.6 L1073.8,1050.9 L1076.0,1047.1 L1078.2,1045.5 L1080.4,1043.4 L1082.6,1040.4 L1084.8,1038.7 L1087.0,1036.7 L1089.2,1033.5 L1091.4,1030.0 L1093.6,1026.1 L1095.8,1021.8 L1098.0,1018.7 L1100.2,1015.9 L1102.4,1012.0 L1104.6,1008.2 L1106.8,1006.1 L1109.0,1005.3 L1111.2,1003.7 L1113.4,1001.4 L1115.6,999.3 L1117.8,996.9 L1120.0,994.8 L1122.2,993.1 L1124.4,991.5 L1126.6,989.3 L1128.8,987.2 L1131.0,987.6 L1133.2,989.6 L1135.4,989.7 L1137.6,989.2 L1139.8,990.6 L1142.0,992.5 L1144.2,994.5 L1146.4,996.6 L1148.6,998.5 L1150.8,1001.7 L1153.0,1006.5 L1155.2,1011.1 L1157.4,1016.5 L1159.6,1023.0 L1161.8,1028.9 L1164.0,1034.8 L1166.2,1039.5 L1168.4,1043.0 L1170.6,1045.6 L1172.8,1047.8 L1175.0,1051.0 L1177.2,1054.4 L1179.4,1057.3 L1181.6,1059.5 L1183.8,1061.7 L1186.0,1063.0 L1188.2,1063.2 L1190.4,1064.0 L1192.6,1065.4 L1194.8,1067.3 L1197.0,1068.6 L1199.2,1069.0 L1201.4,1069.5 L1203.6,1070.6 L1205.8,1072.1 L1208.0,1073.5 L1210.2,1074.4 L1212.4,1074.6 L1214.6,1074.8 L1216.8,1075.5 L1219.0,1076.2 L1221.2,1076.9 L1223.4,1077.5 L1225.6,1077.9 L1227.8,1078.2 L1230.0,1078.6 L1232.2,1079.1 L1234.4,1079.6 L1236.6,1080.1 L1238.8,1080.7 L1241.0,1081.3 L1243.2,1081.7 L1245.4,1082.0 L1247.6,1082.4 L1249.8,1082.7 L1252.0,1082.9 L1254.2,1083.3 L1256.4,1083.7 L1258.6,1083.9 L1260.8,1084.0 L1263.0,1084.2 L1265.2,1084.5 L1267.4,1084.7 L1269.6,1084.9 L1271.8,1085.1 L1274.0,1085.3 L1276.2,1085.6 L1278.4,1085.7 L1280.6,1085.7 L1282.8,1085.9 L1285.0,1086.0 L1287.2,1086.1 L1289.4,1086.2 L1291.6,1086.4 L1293.8,1086.5 L1296.0,1086.6 L1298.2,1086.7 L1300.4,1086.8 L1302.6,1086.9 L1304.8,1086.9 L1307.0,1087.0 L1309.2,1087.1 L1311.4,1087.1 L1313.6,1087.2 L1315.8,1087.2 L1318.0,1087.2 L1320.2,1087.3 L1322.4,1087.3 L1324.6,1087.3 L1326.8,1087.3 L1329.0,1087.4 L1331.2,1087.4 L1333.4,1087.4 L1335.6,1087.4 L1337.8,1087.4 L1340.0,1087.5 L1342.2,1087.5 L1344.4,1087.5 L1345.4,1087.5 L1406.2,1087.6" fill="#bf95e9" stroke="#0d0d0d" stroke-width="3.8" stroke-linejoin="round" stroke-linecap="butt"/>
<path d="M963.0,650.5 V1089.5" stroke="#0d0d0d" stroke-width="3.8" fill="none"/>
<path d="M961.1,1087.6 H1406.2" stroke="#0d0d0d" stroke-width="4" fill="none"/>
<text x="1010.5" y="1132.5" font-size="29" text-anchor="middle" fill="#111">10<tspan font-size="15.5" dy="-10.3" dx="0.2">1</tspan></text>
<text x="1099.4" y="1132.5" font-size="29" text-anchor="middle" fill="#111">10<tspan font-size="15.5" dy="-10.3" dx="0.2">2</tspan></text>
<text x="1188.3" y="1132.5" font-size="29" text-anchor="middle" fill="#111">10<tspan font-size="15.5" dy="-10.3" dx="0.2">3</tspan></text>
<text x="1277.2" y="1132.5" font-size="29" text-anchor="middle" fill="#111">10<tspan font-size="15.5" dy="-10.3" dx="0.2">4</tspan></text>
<text x="1366.1" y="1132.5" font-size="29" text-anchor="middle" fill="#111">10<tspan font-size="15.5" dy="-10.3" dx="0.2">5</tspan></text>
<rect x="973.1" y="1087.6" width="3.4" height="6.2" fill="#0d0d0d"/><rect x="981.7" y="1087.6" width="3.4" height="9.3" fill="#0d0d0d"/><rect x="988.8" y="1087.6" width="3.4" height="6.2" fill="#0d0d0d"/><rect x="994.7" y="1087.6" width="3.4" height="6.2" fill="#0d0d0d"/><rect x="999.9" y="1087.6" width="3.4" height="6.2" fill="#0d0d0d"/><rect x="1004.4" y="1087.6" width="3.4" height="6.2" fill="#0d0d0d"/><rect x="1008.1" y="1087.6" width="4.4" height="13" fill="#0d0d0d"/><rect x="1035.3" y="1087.6" width="3.4" height="6.2" fill="#0d0d0d"/><rect x="1050.9" y="1087.6" width="3.4" height="6.2" fill="#0d0d0d"/><rect x="1062.0" y="1087.6" width="3.4" height="6.2" fill="#0d0d0d"/><rect x="1070.6" y="1087.6" width="3.4" height="9.3" fill="#0d0d0d"/><rect x="1077.7" y="1087.6" width="3.4" height="6.2" fill="#0d0d0d"/><rect x="1083.6" y="1087.6" width="3.4" height="6.2" fill="#0d0d0d"/><rect x="1088.8" y="1087.6" width="3.4" height="6.2" fill="#0d0d0d"/><rect x="1093.3" y="1087.6" width="3.4" height="6.2" fill="#0d0d0d"/><rect x="1097.0" y="1087.6" width="4.4" height="13" fill="#0d0d0d"/><rect x="1124.2" y="1087.6" width="3.4" height="6.2" fill="#0d0d0d"/><rect x="1139.8" y="1087.6" width="3.4" height="6.2" fill="#0d0d0d"/><rect x="1150.9" y="1087.6" width="3.4" height="6.2" fill="#0d0d0d"/><rect x="1159.5" y="1087.6" width="3.4" height="9.3" fill="#0d0d0d"/><rect x="1166.6" y="1087.6" width="3.4" height="6.2" fill="#0d0d0d"/><rect x="1172.5" y="1087.6" width="3.4" height="6.2" fill="#0d0d0d"/><rect x="1177.7" y="1087.6" width="3.4" height="6.2" fill="#0d0d0d"/><rect x="1182.2" y="1087.6" width="3.4" height="6.2" fill="#0d0d0d"/><rect x="1185.9" y="1087.6" width="4.4" height="13" fill="#0d0d0d"/><rect x="1213.1" y="1087.6" width="3.4" height="6.2" fill="#0d0d0d"/><rect x="1228.7" y="1087.6" width="3.4" height="6.2" fill="#0d0d0d"/><rect x="1239.8" y="1087.6" width="3.4" height="6.2" fill="#0d0d0d"/><rect x="1248.4" y="1087.6" width="3.4" height="9.3" fill="#0d0d0d"/><rect x="1255.5" y="1087.6" width="3.4" height="6.2" fill="#0d0d0d"/><rect x="1261.4" y="1087.6" width="3.4" height="6.2" fill="#0d0d0d"/><rect x="1266.6" y="1087.6" width="3.4" height="6.2" fill="#0d0d0d"/><rect x="1271.1" y="1087.6" width="3.4" height="6.2" fill="#0d0d0d"/><rect x="1274.8" y="1087.6" width="4.4" height="13" fill="#0d0d0d"/><rect x="1302.0" y="1087.6" width="3.4" height="6.2" fill="#0d0d0d"/><rect x="1317.6" y="1087.6" width="3.4" height="6.2" fill="#0d0d0d"/><rect x="1328.7" y="1087.6" width="3.4" height="6.2" fill="#0d0d0d"/><rect x="1337.3" y="1087.6" width="3.4" height="9.3" fill="#0d0d0d"/><rect x="1344.4" y="1087.6" width="3.4" height="6.2" fill="#0d0d0d"/><rect x="1350.3" y="1087.6" width="3.4" height="6.2" fill="#0d0d0d"/><rect x="1355.5" y="1087.6" width="3.4" height="6.2" fill="#0d0d0d"/><rect x="1360.0" y="1087.6" width="3.4" height="6.2" fill="#0d0d0d"/><rect x="1363.7" y="1087.6" width="4.4" height="13" fill="#0d0d0d"/><rect x="1390.9" y="1087.6" width="3.4" height="6.2" fill="#0d0d0d"/>
<text x="1184.8" y="1180.6" font-size="29" text-anchor="middle" fill="#111" >Bead dTomato fluorescence (AU)</text>
<text transform="translate(936.3 869.6) rotate(-90)" font-size="29" text-anchor="middle" fill="#111">Frequency (normalized)</text>
<text x="911.0" y="626.0" font-size="26" text-anchor="start" font-weight="bold" fill="#000" >e</text>
<path d="M1457.0,754.6 L1458.8,649.5 L1459.6,701.5 L1461.0,727.0 L1460.6,740.6 L1462.2,744.0 L1464.4,744.2 L1466.6,744.0 L1468.8,743.5 L1471.0,743.2 L1473.2,742.8 L1475.4,741.9 L1477.6,740.9 L1479.8,739.6 L1482.0,738.5 L1484.2,737.6 L1486.4,736.5 L1488.6,735.1 L1490.8,733.9 L1493.0,732.1 L1495.2,728.8 L1497.4,724.9 L1499.6,721.2 L1501.8,719.8 L1504.0,719.6 L1506.2,718.2 L1508.4,713.8 L1510.6,707.4 L1512.8,702.6 L1515.0,697.9 L1517.2,693.2 L1519.4,691.1 L1521.6,688.9 L1523.8,684.9 L1526.0,681.6 L1528.2,678.6 L1530.4,674.4 L1532.6,670.9 L1534.8,667.1 L1537.0,661.3 L1539.2,657.4 L1541.4,656.9 L1543.6,657.5 L1545.8,658.0 L1548.0,657.1 L1550.2,653.0 L1552.4,653.4 L1554.6,657.3 L1556.8,661.4 L1559.0,668.4 L1561.2,675.2 L1563.4,680.5 L1565.6,688.5 L1567.8,698.8 L1570.0,709.7 L1572.2,720.1 L1574.4,727.8 L1576.6,733.4 L1578.8,739.2 L1581.0,744.3 L1583.2,747.6 L1585.4,750.1 L1587.6,751.9 L1589.8,753.0 L1592.0,753.6 L1594.2,754.0 L1596.4,754.3 L1597.8,754.6 L1903.6,754.6" fill="#9b9b9b" stroke="#0d0d0d" stroke-width="3.8" stroke-linejoin="round" stroke-linecap="butt"/>
<path d="M1457.0,866.4 L1458.8,756.1 L1459.6,813.5 L1461.0,841.7 L1460.6,857.0 L1462.2,860.5 L1464.4,859.7 L1466.6,859.1 L1468.8,858.3 L1471.0,857.3 L1473.2,856.4 L1475.4,855.4 L1477.6,854.3 L1479.8,853.2 L1482.0,852.2 L1484.2,851.5 L1486.4,851.3 L1488.6,850.9 L1490.8,850.0 L1493.0,849.0 L1495.2,847.7 L1497.4,846.8 L1499.6,845.3 L1501.8,842.6 L1504.0,839.5 L1506.2,835.7 L1508.4,832.9 L1510.6,831.1 L1512.8,826.8 L1515.0,821.1 L1517.2,815.8 L1519.4,810.8 L1521.6,806.2 L1523.8,802.4 L1526.0,798.6 L1528.2,794.3 L1530.4,789.3 L1532.6,784.5 L1534.8,781.4 L1537.0,779.2 L1539.2,777.2 L1541.4,775.5 L1543.6,773.1 L1545.8,769.9 L1548.0,767.4 L1550.2,766.6 L1552.4,767.0 L1554.6,771.5 L1556.8,778.1 L1559.0,786.8 L1561.2,792.5 L1563.4,793.5 L1565.6,795.2 L1567.8,801.3 L1570.0,810.5 L1572.2,819.8 L1574.4,826.5 L1576.6,833.3 L1578.8,840.2 L1581.0,845.4 L1583.2,850.5 L1585.4,855.0 L1587.6,857.6 L1589.8,859.1 L1592.0,860.4 L1594.2,861.3 L1596.4,861.8 L1598.6,862.3 L1600.8,862.8 L1603.0,863.3 L1605.2,863.7 L1607.4,864.1 L1609.6,864.5 L1611.8,864.7 L1614.0,864.9 L1616.2,865.0 L1618.4,865.1 L1620.6,865.3 L1622.8,865.4 L1625.0,865.5 L1627.2,865.6 L1629.4,865.7 L1631.6,865.8 L1633.8,865.9 L1636.0,866.0 L1638.2,866.0 L1640.4,866.0 L1642.6,866.1 L1644.8,866.1 L1647.0,866.1 L1649.2,866.2 L1651.4,866.2 L1653.6,866.2 L1655.8,866.2 L1658.0,866.3 L1660.2,866.3 L1662.4,866.3 L1664.6,866.3 L1666.8,866.3 L1669.0,866.3 L1671.2,866.4 L1903.6,866.4" fill="#6214a3" stroke="#0d0d0d" stroke-width="3.8" stroke-linejoin="round" stroke-linecap="butt"/>
<path d="M1457.0,977.2 L1458.8,867.9 L1459.6,925.7 L1461.0,954.1 L1460.6,969.5 L1462.2,972.9 L1464.4,972.7 L1466.6,972.5 L1468.8,972.4 L1471.0,972.3 L1473.2,972.2 L1475.4,972.0 L1477.6,971.7 L1479.8,971.5 L1482.0,971.3 L1484.2,971.1 L1486.4,970.9 L1488.6,970.5 L1490.8,970.1 L1493.0,969.6 L1495.2,968.9 L1497.4,968.3 L1499.6,967.9 L1501.8,967.3 L1504.0,965.5 L1506.2,963.4 L1508.4,961.6 L1510.6,960.1 L1512.8,958.2 L1515.0,956.0 L1517.2,954.2 L1519.4,952.8 L1521.6,951.0 L1523.8,948.8 L1526.0,946.2 L1528.2,943.9 L1530.4,942.7 L1532.6,941.1 L1534.8,936.8 L1537.0,931.2 L1539.2,927.0 L1541.4,923.3 L1543.6,918.7 L1545.8,913.7 L1548.0,908.9 L1550.2,903.4 L1552.4,899.2 L1554.6,896.4 L1556.8,892.6 L1559.0,888.6 L1561.2,885.1 L1563.4,881.2 L1565.6,877.6 L1567.8,874.8 L1570.0,874.8 L1572.2,875.9 L1574.4,875.6 L1576.6,875.1 L1578.8,875.3 L1581.0,883.1 L1583.2,895.5 L1585.4,902.3 L1587.6,906.1 L1589.8,911.1 L1592.0,917.0 L1594.2,920.6 L1596.4,924.2 L1598.6,929.8 L1600.8,934.4 L1603.0,937.0 L1605.2,941.1 L1607.4,945.5 L1609.6,949.4 L1611.8,953.6 L1614.0,956.9 L1616.2,959.3 L1618.4,961.4 L1620.6,963.1 L1622.8,964.7 L1625.0,966.3 L1627.2,967.5 L1629.4,968.7 L1631.6,970.2 L1633.8,971.4 L1636.0,972.1 L1638.2,972.6 L1640.4,972.8 L1642.6,973.1 L1644.8,973.4 L1647.0,973.6 L1649.2,973.9 L1651.4,974.2 L1653.6,974.4 L1655.8,974.6 L1658.0,974.7 L1660.2,974.9 L1662.4,975.1 L1664.6,975.3 L1666.8,975.4 L1669.0,975.6 L1671.2,975.7 L1673.4,975.8 L1675.6,975.8 L1677.8,975.8 L1680.0,975.9 L1682.2,975.9 L1684.4,976.0 L1686.6,976.1 L1688.8,976.1 L1691.0,976.1 L1693.2,976.2 L1695.4,976.2 L1697.6,976.3 L1699.8,976.3 L1702.0,976.4 L1704.2,976.4 L1706.4,976.4 L1708.6,976.4 L1710.8,976.4 L1713.0,976.5 L1715.2,976.5 L1717.4,976.6 L1719.6,976.6 L1721.8,976.6 L1724.0,976.6 L1726.2,976.6 L1728.4,976.7 L1730.6,976.7 L1732.8,976.7 L1735.0,976.7 L1737.2,976.7 L1739.4,976.8 L1741.6,976.8 L1743.8,976.8 L1746.0,976.8 L1748.2,976.9 L1750.4,976.9 L1752.6,976.9 L1754.8,976.9 L1757.0,977.0 L1759.2,977.0 L1761.4,977.0 L1763.6,977.0 L1765.8,977.0 L1768.0,977.1 L1770.2,977.1 L1772.4,977.1 L1774.6,977.1 L1776.8,977.2 L1903.6,977.2" fill="#6214a3" stroke="#0d0d0d" stroke-width="3.8" stroke-linejoin="round" stroke-linecap="butt"/>
<path d="M1457.0,1087.6 L1458.8,978.7 L1459.6,1036.7 L1461.0,1065.1 L1460.6,1080.6 L1462.2,1084.1 L1464.4,1084.2 L1466.6,1084.3 L1468.8,1084.2 L1471.0,1084.2 L1473.2,1084.2 L1475.4,1084.2 L1477.6,1084.1 L1479.8,1084.0 L1482.0,1083.7 L1484.2,1083.2 L1486.4,1082.8 L1488.6,1082.5 L1490.8,1082.2 L1493.0,1081.7 L1495.2,1081.1 L1497.4,1080.4 L1499.6,1079.8 L1501.8,1079.3 L1504.0,1078.5 L1506.2,1077.5 L1508.4,1076.9 L1510.6,1076.2 L1512.8,1075.2 L1515.0,1073.8 L1517.2,1071.0 L1519.4,1067.2 L1521.6,1063.4 L1523.8,1060.5 L1526.0,1058.4 L1528.2,1056.6 L1530.4,1054.9 L1532.6,1052.3 L1534.8,1049.5 L1537.0,1047.5 L1539.2,1045.2 L1541.4,1042.4 L1543.6,1040.2 L1545.8,1036.1 L1548.0,1030.9 L1550.2,1026.6 L1552.4,1021.2 L1554.6,1014.8 L1556.8,1008.1 L1559.0,1002.1 L1561.2,998.4 L1563.4,993.8 L1565.6,987.4 L1567.8,985.5 L1570.0,989.5 L1572.2,994.3 L1574.4,994.9 L1576.6,995.8 L1578.8,998.2 L1581.0,998.8 L1583.2,1000.6 L1585.4,1007.3 L1587.6,1014.0 L1589.8,1015.1 L1592.0,1014.0 L1594.2,1016.7 L1596.4,1023.0 L1598.6,1031.3 L1600.8,1038.0 L1603.0,1039.9 L1605.2,1040.3 L1607.4,1041.1 L1609.6,1043.2 L1611.8,1044.9 L1614.0,1044.9 L1616.2,1046.7 L1618.4,1048.8 L1620.6,1048.8 L1622.8,1049.9 L1625.0,1052.7 L1627.2,1055.0 L1629.4,1056.3 L1631.6,1057.8 L1633.8,1058.7 L1636.0,1058.2 L1638.2,1058.0 L1640.4,1058.9 L1642.6,1060.1 L1644.8,1060.6 L1647.0,1060.2 L1649.2,1057.1 L1651.4,1054.4 L1653.6,1056.0 L1655.8,1060.7 L1658.0,1065.6 L1660.2,1067.7 L1662.4,1067.2 L1664.6,1066.9 L1666.8,1066.9 L1669.0,1066.4 L1671.2,1065.9 L1673.4,1065.0 L1675.6,1064.3 L1677.8,1064.9 L1680.0,1065.5 L1682.2,1066.2 L1684.4,1067.1 L1686.6,1067.1 L1688.8,1066.9 L1691.0,1067.1 L1693.2,1066.8 L1695.4,1066.2 L1697.6,1065.8 L1699.8,1065.7 L1702.0,1065.6 L1704.2,1066.0 L1706.4,1067.1 L1708.6,1068.0 L1710.8,1068.9 L1713.0,1069.6 L1715.2,1070.1 L1717.4,1069.9 L1719.6,1068.9 L1721.8,1068.1 L1724.0,1068.0 L1726.2,1067.4 L1728.4,1066.6 L1730.6,1067.1 L1732.8,1068.2 L1735.0,1069.0 L1737.2,1070.0 L1739.4,1071.4 L1741.6,1072.4 L1743.8,1072.8 L1746.0,1073.0 L1748.2,1073.1 L1750.4,1073.0 L1752.6,1072.9 L1754.8,1072.7 L1757.0,1072.8 L1759.2,1073.7 L1761.4,1073.9 L1763.6,1073.6 L1765.8,1074.0 L1768.0,1075.4 L1770.2,1076.8 L1772.4,1077.8 L1774.6,1078.7 L1776.8,1079.7 L1779.0,1080.7 L1781.2,1081.4 L1783.4,1081.8 L1785.6,1082.3 L1787.8,1082.9 L1790.0,1083.5 L1792.2,1084.1 L1794.4,1084.4 L1796.6,1084.8 L1798.8,1085.1 L1801.0,1085.4 L1803.2,1085.7 L1805.4,1085.9 L1807.6,1086.1 L1809.8,1086.3 L1812.0,1086.4 L1814.2,1086.6 L1816.4,1086.7 L1818.6,1086.8 L1820.8,1086.9 L1823.0,1086.9 L1825.2,1087.0 L1827.4,1087.0 L1829.6,1087.1 L1831.8,1087.2 L1834.0,1087.2 L1836.2,1087.3 L1838.4,1087.3 L1840.6,1087.4 L1842.8,1087.4 L1845.0,1087.5 L1847.2,1087.5 L1849.4,1087.6 L1903.6,1087.6" fill="#6214a3" stroke="#0d0d0d" stroke-width="3.8" stroke-linejoin="round" stroke-linecap="butt"/>
<path d="M1456.2,648.0 V1089.5" stroke="#0d0d0d" stroke-width="3.8" fill="none"/>
<path d="M1454.3,1087.6 H1903.6" stroke="#0d0d0d" stroke-width="4" fill="none"/>
<text x="1506.5" y="1132.5" font-size="29" text-anchor="middle" fill="#111">10<tspan font-size="15.5" dy="-10.3" dx="0.2">1</tspan></text>
<text x="1596.0" y="1132.5" font-size="29" text-anchor="middle" fill="#111">10<tspan font-size="15.5" dy="-10.3" dx="0.2">2</tspan></text>
<text x="1685.5" y="1132.5" font-size="29" text-anchor="middle" fill="#111">10<tspan font-size="15.5" dy="-10.3" dx="0.2">3</tspan></text>
<text x="1775.0" y="1132.5" font-size="29" text-anchor="middle" fill="#111">10<tspan font-size="15.5" dy="-10.3" dx="0.2">4</tspan></text>
<text x="1864.5" y="1132.5" font-size="29" text-anchor="middle" fill="#111">10<tspan font-size="15.5" dy="-10.3" dx="0.2">5</tspan></text>
<rect x="1457.7" y="1087.6" width="3.4" height="6.2" fill="#0d0d0d"/><rect x="1468.9" y="1087.6" width="3.4" height="6.2" fill="#0d0d0d"/><rect x="1477.6" y="1087.6" width="3.4" height="9.3" fill="#0d0d0d"/><rect x="1484.6" y="1087.6" width="3.4" height="6.2" fill="#0d0d0d"/><rect x="1490.6" y="1087.6" width="3.4" height="6.2" fill="#0d0d0d"/><rect x="1495.8" y="1087.6" width="3.4" height="6.2" fill="#0d0d0d"/><rect x="1500.4" y="1087.6" width="3.4" height="6.2" fill="#0d0d0d"/><rect x="1504.1" y="1087.6" width="4.4" height="13" fill="#0d0d0d"/><rect x="1531.4" y="1087.6" width="3.4" height="6.2" fill="#0d0d0d"/><rect x="1547.2" y="1087.6" width="3.4" height="6.2" fill="#0d0d0d"/><rect x="1558.4" y="1087.6" width="3.4" height="6.2" fill="#0d0d0d"/><rect x="1567.1" y="1087.6" width="3.4" height="9.3" fill="#0d0d0d"/><rect x="1574.1" y="1087.6" width="3.4" height="6.2" fill="#0d0d0d"/><rect x="1580.1" y="1087.6" width="3.4" height="6.2" fill="#0d0d0d"/><rect x="1585.3" y="1087.6" width="3.4" height="6.2" fill="#0d0d0d"/><rect x="1589.9" y="1087.6" width="3.4" height="6.2" fill="#0d0d0d"/><rect x="1593.6" y="1087.6" width="4.4" height="13" fill="#0d0d0d"/><rect x="1620.9" y="1087.6" width="3.4" height="6.2" fill="#0d0d0d"/><rect x="1636.7" y="1087.6" width="3.4" height="6.2" fill="#0d0d0d"/><rect x="1647.9" y="1087.6" width="3.4" height="6.2" fill="#0d0d0d"/><rect x="1656.6" y="1087.6" width="3.4" height="9.3" fill="#0d0d0d"/><rect x="1663.6" y="1087.6" width="3.4" height="6.2" fill="#0d0d0d"/><rect x="1669.6" y="1087.6" width="3.4" height="6.2" fill="#0d0d0d"/><rect x="1674.8" y="1087.6" width="3.4" height="6.2" fill="#0d0d0d"/><rect x="1679.4" y="1087.6" width="3.4" height="6.2" fill="#0d0d0d"/><rect x="1683.1" y="1087.6" width="4.4" height="13" fill="#0d0d0d"/><rect x="1710.4" y="1087.6" width="3.4" height="6.2" fill="#0d0d0d"/><rect x="1726.2" y="1087.6" width="3.4" height="6.2" fill="#0d0d0d"/><rect x="1737.4" y="1087.6" width="3.4" height="6.2" fill="#0d0d0d"/><rect x="1746.1" y="1087.6" width="3.4" height="9.3" fill="#0d0d0d"/><rect x="1753.1" y="1087.6" width="3.4" height="6.2" fill="#0d0d0d"/><rect x="1759.1" y="1087.6" width="3.4" height="6.2" fill="#0d0d0d"/><rect x="1764.3" y="1087.6" width="3.4" height="6.2" fill="#0d0d0d"/><rect x="1768.9" y="1087.6" width="3.4" height="6.2" fill="#0d0d0d"/><rect x="1772.6" y="1087.6" width="4.4" height="13" fill="#0d0d0d"/><rect x="1799.9" y="1087.6" width="3.4" height="6.2" fill="#0d0d0d"/><rect x="1815.7" y="1087.6" width="3.4" height="6.2" fill="#0d0d0d"/><rect x="1826.9" y="1087.6" width="3.4" height="6.2" fill="#0d0d0d"/><rect x="1835.6" y="1087.6" width="3.4" height="9.3" fill="#0d0d0d"/><rect x="1842.6" y="1087.6" width="3.4" height="6.2" fill="#0d0d0d"/><rect x="1848.6" y="1087.6" width="3.4" height="6.2" fill="#0d0d0d"/><rect x="1853.8" y="1087.6" width="3.4" height="6.2" fill="#0d0d0d"/><rect x="1858.4" y="1087.6" width="3.4" height="6.2" fill="#0d0d0d"/><rect x="1862.1" y="1087.6" width="4.4" height="13" fill="#0d0d0d"/><rect x="1889.4" y="1087.6" width="3.4" height="6.2" fill="#0d0d0d"/>
<text x="1682.5" y="1180.6" font-size="29" text-anchor="middle" fill="#111" >Bead dTomato fluorescence (AU)</text>
<text x="1902.3" y="673.1" font-size="29" text-anchor="end" fill="#111" >No treatment</text>
<text x="1902.3" y="784.3" font-size="29" text-anchor="end" fill="#111" >Non-targeted</text>
<text x="1902.3" y="898.5" font-size="29" text-anchor="end" fill="#111" >PDGFR display</text>
<text x="1902.3" y="1010.4" font-size="29" text-anchor="end" fill="#111" >C1C2 display</text>
<rect x="1635.5" y="1030.7" width="272.3" height="72.7" fill="none" stroke="#df1a20" stroke-width="3.6"/>
<rect x="1948" y="678.7" width="23.7" height="24.1" fill="#bf95e9"/>
<text x="1980.3" y="702.1" font-size="29" text-anchor="start" fill="#111" >MV</text>
<rect x="1948" y="721.4" width="23.7" height="24.4" fill="#6214a3"/>
<text x="1980.8" y="744.8" font-size="29" text-anchor="start" fill="#111" >Exo</text>
<use href="#miniTM" x="1953.9" y="930.3"/>
<use href="#miniBlue" x="1956.8" y="1056.8"/>
<path d="M964.2,1385.5 L966.0,1280.7 L966.8,1331.9 L968.2,1357.1 L970.1,1370.3 L971.7,1373.5 L973.9,1373.0 L976.1,1372.4 L978.3,1372.1 L980.5,1371.7 L982.7,1370.6 L984.9,1369.5 L987.1,1368.7 L989.3,1367.1 L991.5,1365.6 L993.7,1364.6 L995.9,1362.9 L998.1,1361.0 L1000.3,1359.7 L1002.5,1359.1 L1004.7,1358.6 L1006.9,1357.5 L1009.1,1356.5 L1011.3,1355.1 L1013.5,1352.1 L1015.7,1348.5 L1017.9,1346.3 L1020.1,1344.9 L1022.3,1341.4 L1024.5,1337.9 L1026.7,1337.4 L1028.9,1337.5 L1031.1,1333.8 L1033.3,1328.3 L1035.5,1325.0 L1037.7,1324.0 L1039.9,1323.1 L1042.1,1321.1 L1044.3,1319.7 L1046.5,1318.8 L1048.7,1316.0 L1050.9,1312.9 L1053.1,1310.7 L1055.3,1307.9 L1057.5,1304.6 L1059.7,1300.2 L1061.9,1294.8 L1064.1,1289.9 L1066.3,1289.1 L1068.5,1292.6 L1070.7,1295.8 L1072.9,1298.1 L1075.1,1299.6 L1077.3,1299.1 L1079.5,1297.5 L1081.7,1296.0 L1083.9,1296.3 L1086.1,1299.2 L1088.3,1302.2 L1090.5,1303.7 L1092.7,1304.1 L1094.9,1304.2 L1097.1,1305.5 L1099.3,1310.1 L1101.5,1315.7 L1103.7,1319.6 L1105.9,1322.9 L1108.1,1328.6 L1110.3,1335.1 L1112.5,1341.0 L1114.7,1345.9 L1116.9,1349.1 L1119.1,1352.6 L1121.3,1356.3 L1123.5,1359.5 L1125.7,1363.3 L1127.9,1367.3 L1130.1,1371.1 L1132.3,1374.1 L1134.5,1376.5 L1136.7,1378.3 L1138.9,1379.7 L1141.1,1381.0 L1143.3,1382.0 L1145.5,1382.9 L1147.7,1383.7 L1149.9,1384.4 L1152.1,1384.9 L1154.3,1385.1 L1156.5,1385.2 L1158.7,1385.3 L1160.9,1385.3 L1163.1,1385.4 L1165.3,1385.5 L1477.5,1385.5" fill="#9b9b9b" stroke="#0d0d0d" stroke-width="3.8" stroke-linejoin="round" stroke-linecap="butt"/>
<path d="M964.2,1492.7 L966.0,1387.0 L966.8,1437.8 L968.2,1462.7 L970.1,1475.8 L971.7,1479.4 L973.9,1478.7 L976.1,1478.7 L978.3,1478.8 L980.5,1478.3 L982.7,1478.0 L984.9,1477.5 L987.1,1476.9 L989.3,1475.8 L991.5,1473.8 L993.7,1471.8 L995.9,1469.8 L998.1,1467.6 L1000.3,1466.7 L1002.5,1466.1 L1004.7,1464.9 L1006.9,1463.8 L1009.1,1462.5 L1011.3,1460.5 L1013.5,1458.3 L1015.7,1456.3 L1017.9,1454.6 L1020.1,1452.8 L1022.3,1450.3 L1024.5,1447.3 L1026.7,1444.9 L1028.9,1442.1 L1031.1,1438.3 L1033.3,1437.0 L1035.5,1436.2 L1037.7,1434.3 L1039.9,1431.5 L1042.1,1428.1 L1044.3,1426.5 L1046.5,1424.2 L1048.7,1420.6 L1050.9,1417.1 L1053.1,1412.7 L1055.3,1408.3 L1057.5,1406.0 L1059.7,1403.7 L1061.9,1402.7 L1064.1,1403.3 L1066.3,1402.7 L1068.5,1402.0 L1070.7,1403.2 L1072.9,1403.9 L1075.1,1401.8 L1077.3,1397.9 L1079.5,1394.7 L1081.7,1394.1 L1083.9,1394.3 L1086.1,1394.0 L1088.3,1397.5 L1090.5,1404.7 L1092.7,1408.5 L1094.9,1410.7 L1097.1,1414.2 L1099.3,1417.8 L1101.5,1421.3 L1103.7,1425.0 L1105.9,1428.6 L1108.1,1433.1 L1110.3,1440.1 L1112.5,1448.2 L1114.7,1455.0 L1116.9,1460.1 L1119.1,1463.8 L1121.3,1467.3 L1123.5,1471.6 L1125.7,1475.3 L1127.9,1478.5 L1130.1,1481.6 L1132.3,1484.2 L1134.5,1486.2 L1136.7,1487.8 L1138.9,1489.3 L1141.1,1490.4 L1143.3,1490.9 L1145.5,1491.4 L1147.7,1491.7 L1149.9,1492.0 L1152.1,1492.3 L1154.3,1492.7 L1477.5,1492.7" fill="#9b9b9b" stroke="#0d0d0d" stroke-width="3.8" stroke-linejoin="round" stroke-linecap="butt"/>
<path d="M964.2,1600.2 L966.0,1494.2 L966.8,1546.1 L968.2,1571.6 L970.1,1585.1 L971.7,1588.9 L973.9,1588.6 L976.1,1588.1 L978.3,1587.7 L980.5,1587.4 L982.7,1586.4 L984.9,1585.7 L987.1,1585.7 L989.3,1585.2 L991.5,1584.5 L993.7,1583.9 L995.9,1583.3 L998.1,1582.6 L1000.3,1581.6 L1002.5,1580.0 L1004.7,1578.3 L1006.9,1577.4 L1009.1,1576.2 L1011.3,1574.7 L1013.5,1574.4 L1015.7,1573.5 L1017.9,1571.6 L1020.1,1570.3 L1022.3,1568.5 L1024.5,1566.9 L1026.7,1566.5 L1028.9,1566.4 L1031.1,1565.4 L1033.3,1564.6 L1035.5,1563.5 L1037.7,1560.6 L1039.9,1556.1 L1042.1,1550.9 L1044.3,1546.9 L1046.5,1545.4 L1048.7,1543.6 L1050.9,1540.5 L1053.1,1537.9 L1055.3,1536.2 L1057.5,1534.9 L1059.7,1533.7 L1061.9,1532.2 L1064.1,1529.8 L1066.3,1527.3 L1068.5,1525.9 L1070.7,1524.6 L1072.9,1523.3 L1075.1,1523.3 L1077.3,1521.6 L1079.5,1517.9 L1081.7,1514.9 L1083.9,1512.6 L1086.1,1509.8 L1088.3,1506.6 L1090.5,1504.5 L1092.7,1504.5 L1094.9,1505.5 L1097.1,1507.6 L1099.3,1511.1 L1101.5,1513.0 L1103.7,1514.0 L1105.9,1516.5 L1108.1,1518.7 L1110.3,1517.0 L1112.5,1513.9 L1114.7,1513.2 L1116.9,1514.1 L1119.1,1515.6 L1121.3,1517.3 L1123.5,1518.5 L1125.7,1520.0 L1127.9,1522.4 L1130.1,1524.7 L1132.3,1526.7 L1134.5,1529.7 L1136.7,1533.9 L1138.9,1537.0 L1141.1,1537.2 L1143.3,1538.0 L1145.5,1539.9 L1147.7,1541.1 L1149.9,1543.7 L1152.1,1545.7 L1154.3,1545.6 L1156.5,1546.6 L1158.7,1548.5 L1160.9,1550.4 L1163.1,1553.2 L1165.3,1555.6 L1167.5,1557.1 L1169.7,1558.0 L1171.9,1556.9 L1174.1,1554.8 L1176.3,1555.9 L1178.5,1557.7 L1180.7,1558.6 L1182.9,1560.8 L1185.1,1562.3 L1187.3,1562.8 L1189.5,1563.1 L1191.7,1563.1 L1193.9,1563.3 L1196.1,1564.3 L1198.3,1566.7 L1200.5,1569.9 L1202.7,1571.9 L1204.9,1573.9 L1207.1,1575.9 L1209.3,1576.6 L1211.5,1576.9 L1213.7,1576.7 L1215.9,1576.2 L1218.1,1576.1 L1220.3,1576.7 L1222.5,1577.3 L1224.7,1577.8 L1226.9,1578.3 L1229.1,1579.0 L1231.3,1579.7 L1233.5,1580.4 L1235.7,1581.1 L1237.9,1582.0 L1240.1,1582.0 L1242.3,1581.9 L1244.5,1582.9 L1246.7,1583.9 L1248.9,1584.3 L1251.1,1584.3 L1253.3,1584.8 L1255.5,1586.3 L1257.7,1587.5 L1259.9,1587.8 L1262.1,1588.3 L1264.3,1588.9 L1266.5,1589.4 L1268.7,1590.2 L1270.9,1591.2 L1273.1,1591.7 L1275.3,1592.0 L1277.5,1592.1 L1279.7,1592.2 L1281.9,1592.5 L1284.1,1592.8 L1286.3,1593.1 L1288.5,1593.5 L1290.7,1593.7 L1292.9,1593.8 L1295.1,1594.0 L1297.3,1594.3 L1299.5,1594.5 L1301.7,1594.6 L1303.9,1594.7 L1306.1,1594.7 L1308.3,1594.7 L1310.5,1594.9 L1312.7,1595.2 L1314.9,1595.5 L1317.1,1595.4 L1319.3,1595.3 L1321.5,1595.3 L1323.7,1595.4 L1325.9,1595.5 L1328.1,1595.6 L1330.3,1595.6 L1332.5,1595.7 L1334.7,1595.9 L1336.9,1596.0 L1339.1,1596.1 L1341.3,1596.1 L1343.5,1596.3 L1345.7,1596.5 L1347.9,1596.7 L1350.1,1596.8 L1352.3,1596.8 L1354.5,1597.0 L1356.7,1597.2 L1358.9,1597.4 L1361.1,1597.5 L1363.3,1597.8 L1365.5,1597.9 L1367.7,1598.0 L1369.9,1598.1 L1372.1,1598.2 L1374.3,1598.4 L1376.5,1598.5 L1378.7,1598.6 L1380.9,1598.7 L1383.1,1598.7 L1385.3,1598.8 L1387.5,1598.9 L1389.7,1599.0 L1391.9,1599.1 L1394.1,1599.1 L1396.3,1599.2 L1398.5,1599.3 L1400.7,1599.3 L1402.9,1599.4 L1405.1,1599.4 L1407.3,1599.5 L1409.5,1599.6 L1411.7,1599.6 L1413.9,1599.7 L1416.1,1599.7 L1418.3,1599.8 L1420.5,1599.8 L1422.7,1599.9 L1424.9,1599.9 L1427.1,1599.9 L1429.3,1599.9 L1431.5,1600.0 L1433.7,1600.0 L1435.9,1600.0 L1438.1,1600.0 L1440.3,1600.1 L1442.5,1600.1 L1444.7,1600.1 L1446.9,1600.1 L1449.1,1600.1 L1451.3,1600.2 L1477.5,1600.2" fill="#bf95e9" stroke="#0d0d0d" stroke-width="3.8" stroke-linejoin="round" stroke-linecap="butt"/>
<path d="M964.2,1707.8 L966.0,1601.7 L966.8,1655.9 L968.2,1682.6 L970.1,1696.8 L971.7,1700.3 L973.9,1699.9 L976.1,1699.4 L978.3,1698.5 L980.5,1697.9 L982.7,1697.5 L984.9,1696.5 L987.1,1695.6 L989.3,1694.9 L991.5,1693.9 L993.7,1693.2 L995.9,1692.8 L998.1,1691.9 L1000.3,1690.6 L1002.5,1689.5 L1004.7,1688.7 L1006.9,1687.9 L1009.1,1687.0 L1011.3,1685.9 L1013.5,1685.0 L1015.7,1684.6 L1017.9,1684.3 L1020.1,1683.3 L1022.3,1682.0 L1024.5,1680.5 L1026.7,1677.4 L1028.9,1673.8 L1031.1,1671.5 L1033.3,1668.8 L1035.5,1665.5 L1037.7,1662.5 L1039.9,1661.0 L1042.1,1659.1 L1044.3,1655.9 L1046.5,1652.8 L1048.7,1649.2 L1050.9,1644.6 L1053.1,1640.5 L1055.3,1638.7 L1057.5,1637.9 L1059.7,1637.2 L1061.9,1636.8 L1064.1,1636.1 L1066.3,1634.3 L1068.5,1632.0 L1070.7,1630.4 L1072.9,1628.1 L1075.1,1624.9 L1077.3,1622.8 L1079.5,1621.4 L1081.7,1620.1 L1083.9,1618.7 L1086.1,1617.6 L1088.3,1616.5 L1090.5,1615.6 L1092.7,1615.2 L1094.9,1613.4 L1097.1,1612.2 L1099.3,1613.6 L1101.5,1614.5 L1103.7,1614.5 L1105.9,1615.6 L1108.1,1619.9 L1110.3,1624.5 L1112.5,1627.1 L1114.7,1628.6 L1116.9,1629.2 L1119.1,1628.8 L1121.3,1626.9 L1123.5,1625.7 L1125.7,1628.2 L1127.9,1633.2 L1130.1,1637.6 L1132.3,1642.6 L1134.5,1648.2 L1136.7,1650.7 L1138.9,1651.3 L1141.1,1651.3 L1143.3,1648.8 L1145.5,1648.4 L1147.7,1651.3 L1149.9,1654.0 L1152.1,1656.8 L1154.3,1659.8 L1156.5,1661.3 L1158.7,1662.3 L1160.9,1664.7 L1163.1,1667.4 L1165.3,1667.9 L1167.5,1667.2 L1169.7,1667.0 L1171.9,1667.3 L1174.1,1669.1 L1176.3,1671.7 L1178.5,1673.9 L1180.7,1675.8 L1182.9,1677.4 L1185.1,1678.0 L1187.3,1678.0 L1189.5,1678.7 L1191.7,1679.4 L1193.9,1679.0 L1196.1,1679.1 L1198.3,1680.7 L1200.5,1682.5 L1202.7,1683.8 L1204.9,1685.1 L1207.1,1686.8 L1209.3,1688.1 L1211.5,1688.9 L1213.7,1689.5 L1215.9,1690.1 L1218.1,1690.6 L1220.3,1691.1 L1222.5,1691.7 L1224.7,1692.1 L1226.9,1692.0 L1229.1,1691.9 L1231.3,1692.3 L1233.5,1693.1 L1235.7,1693.2 L1237.9,1693.1 L1240.1,1693.5 L1242.3,1693.7 L1244.5,1693.8 L1246.7,1694.1 L1248.9,1694.6 L1251.1,1695.0 L1253.3,1695.6 L1255.5,1696.4 L1257.7,1697.1 L1259.9,1697.7 L1262.1,1698.3 L1264.3,1699.1 L1266.5,1699.6 L1268.7,1699.9 L1270.9,1700.2 L1273.1,1700.6 L1275.3,1701.2 L1277.5,1701.6 L1279.7,1701.8 L1281.9,1702.0 L1284.1,1702.3 L1286.3,1702.6 L1288.5,1702.9 L1290.7,1703.1 L1292.9,1703.3 L1295.1,1703.6 L1297.3,1703.7 L1299.5,1703.9 L1301.7,1704.0 L1303.9,1704.1 L1306.1,1704.3 L1308.3,1704.4 L1310.5,1704.5 L1312.7,1704.6 L1314.9,1704.7 L1317.1,1704.8 L1319.3,1705.0 L1321.5,1705.1 L1323.7,1705.2 L1325.9,1705.2 L1328.1,1705.3 L1330.3,1705.4 L1332.5,1705.5 L1334.7,1705.6 L1336.9,1705.7 L1339.1,1705.8 L1341.3,1705.9 L1343.5,1706.0 L1345.7,1706.1 L1347.9,1706.1 L1350.1,1706.1 L1352.3,1706.2 L1354.5,1706.4 L1356.7,1706.4 L1358.9,1706.4 L1361.1,1706.5 L1363.3,1706.6 L1365.5,1706.6 L1367.7,1706.7 L1369.9,1706.7 L1372.1,1706.8 L1374.3,1706.8 L1376.5,1706.9 L1378.7,1706.9 L1380.9,1707.0 L1383.1,1707.1 L1385.3,1707.1 L1387.5,1707.2 L1389.7,1707.2 L1391.9,1707.3 L1394.1,1707.3 L1396.3,1707.3 L1398.5,1707.4 L1400.7,1707.4 L1402.9,1707.5 L1405.1,1707.5 L1407.3,1707.5 L1409.5,1707.6 L1411.7,1707.6 L1413.9,1707.7 L1416.1,1707.7 L1418.3,1707.7 L1420.5,1707.8 L1477.5,1707.8" fill="#bf95e9" stroke="#0d0d0d" stroke-width="3.8" stroke-linejoin="round" stroke-linecap="butt"/>
<path d="M964.2,1815.0 L964.4,1807.6 L970.5,1810.7 L973.0,1813.8 L975.2,1813.9 L977.4,1814.2 L979.6,1814.4 L981.8,1814.5 L984.0,1814.6 L986.2,1814.6 L988.4,1814.6 L990.6,1814.5 L992.8,1814.5 L995.0,1814.5 L997.2,1814.5 L999.4,1814.5 L1001.6,1814.4 L1003.8,1814.4 L1006.0,1814.3 L1008.2,1814.3 L1010.4,1814.3 L1012.6,1814.2 L1014.8,1814.2 L1017.0,1814.1 L1019.2,1814.0 L1021.4,1814.0 L1023.6,1813.9 L1025.8,1813.8 L1028.0,1813.7 L1030.2,1813.6 L1032.4,1813.5 L1034.6,1813.4 L1036.8,1813.3 L1039.0,1813.2 L1041.2,1813.1 L1043.4,1813.1 L1045.6,1813.0 L1047.8,1812.8 L1050.0,1812.4 L1052.2,1811.8 L1054.4,1811.1 L1056.6,1810.4 L1058.8,1809.8 L1061.0,1809.3 L1063.2,1808.6 L1065.4,1807.8 L1067.6,1807.5 L1069.8,1807.6 L1072.0,1807.4 L1074.2,1807.1 L1076.4,1806.6 L1078.6,1806.6 L1080.8,1806.9 L1083.0,1807.0 L1085.2,1806.7 L1087.4,1805.9 L1089.6,1805.2 L1091.8,1804.6 L1094.0,1804.1 L1096.2,1803.6 L1098.4,1802.6 L1100.6,1801.0 L1102.8,1798.9 L1105.0,1796.7 L1107.2,1794.7 L1109.4,1792.9 L1111.6,1791.6 L1113.8,1791.3 L1116.0,1790.9 L1118.2,1789.7 L1120.4,1788.8 L1122.6,1787.8 L1124.8,1786.4 L1127.0,1784.5 L1129.2,1782.3 L1131.4,1780.5 L1133.6,1778.2 L1135.8,1774.7 L1138.0,1771.7 L1140.2,1769.9 L1142.4,1766.8 L1144.6,1764.0 L1146.8,1764.1 L1149.0,1764.3 L1151.2,1762.7 L1153.4,1759.7 L1155.6,1756.5 L1157.8,1754.7 L1160.0,1752.5 L1162.2,1748.6 L1164.4,1745.4 L1166.6,1743.1 L1168.8,1741.0 L1171.0,1740.1 L1173.2,1740.7 L1175.4,1740.7 L1177.6,1739.1 L1179.8,1737.3 L1182.0,1735.5 L1184.2,1733.5 L1186.4,1731.5 L1188.6,1729.2 L1190.8,1725.8 L1193.0,1721.6 L1195.2,1718.4 L1197.4,1717.6 L1199.6,1716.9 L1201.8,1715.8 L1204.0,1715.1 L1206.2,1715.4 L1208.4,1716.5 L1210.6,1717.2 L1212.8,1718.5 L1215.0,1719.9 L1217.2,1718.9 L1219.4,1718.2 L1221.6,1717.8 L1223.8,1719.1 L1226.0,1723.7 L1228.2,1727.9 L1230.4,1729.9 L1232.6,1731.6 L1234.8,1733.4 L1237.0,1734.0 L1239.2,1736.0 L1241.4,1740.1 L1243.6,1742.1 L1245.8,1742.9 L1248.0,1744.6 L1250.2,1744.4 L1252.4,1743.5 L1254.6,1743.6 L1256.8,1747.6 L1259.0,1755.5 L1261.2,1762.7 L1263.4,1766.0 L1265.6,1768.1 L1267.8,1770.4 L1270.0,1771.9 L1272.2,1772.7 L1274.4,1773.5 L1276.6,1775.1 L1278.8,1777.4 L1281.0,1779.9 L1283.2,1781.7 L1285.4,1782.5 L1287.6,1783.8 L1289.8,1785.8 L1292.0,1787.1 L1294.2,1788.1 L1296.4,1789.1 L1298.6,1790.5 L1300.8,1791.8 L1303.0,1792.8 L1305.2,1794.1 L1307.4,1795.5 L1309.6,1796.5 L1311.8,1797.4 L1314.0,1798.2 L1316.2,1799.4 L1318.4,1800.4 L1320.6,1801.1 L1322.8,1802.0 L1325.0,1802.8 L1327.2,1803.2 L1329.4,1803.7 L1331.6,1804.2 L1333.8,1804.5 L1336.0,1805.3 L1338.2,1806.3 L1340.4,1806.7 L1342.6,1807.0 L1344.8,1807.4 L1347.0,1807.8 L1349.2,1808.1 L1351.4,1808.6 L1353.6,1809.0 L1355.8,1809.3 L1358.0,1809.5 L1360.2,1809.7 L1362.4,1810.0 L1364.6,1810.5 L1366.8,1810.9 L1369.0,1811.2 L1371.2,1811.5 L1373.4,1811.8 L1375.6,1812.1 L1377.8,1812.4 L1380.0,1812.6 L1382.2,1812.8 L1384.4,1813.1 L1386.6,1813.3 L1388.8,1813.5 L1391.0,1813.7 L1393.2,1813.8 L1395.4,1813.9 L1397.6,1814.0 L1399.8,1814.1 L1402.0,1814.2 L1404.2,1814.3 L1406.4,1814.4 L1408.6,1814.5 L1410.8,1814.6 L1413.0,1814.7 L1415.2,1814.8 L1417.4,1814.8 L1419.6,1814.9 L1421.2,1815.0 L1477.5,1815.0" fill="#bf95e9" stroke="#0d0d0d" stroke-width="3.8" stroke-linejoin="round" stroke-linecap="butt"/>
<path d="M964.2,1922.1 L966.0,1816.5 L966.8,1871.4 L968.2,1898.3 L970.1,1912.8 L971.7,1916.3 L973.9,1916.8 L976.1,1917.5 L978.3,1918.4 L980.5,1919.1 L982.7,1919.2 L984.9,1919.2 L987.1,1919.2 L989.3,1919.1 L991.5,1919.0 L993.7,1919.0 L995.9,1918.8 L998.1,1918.4 L1000.3,1918.1 L1002.5,1917.8 L1004.7,1917.5 L1006.9,1917.2 L1009.1,1917.1 L1011.3,1916.9 L1013.5,1916.4 L1015.7,1915.8 L1017.9,1915.2 L1020.1,1914.7 L1022.3,1914.2 L1024.5,1913.5 L1026.7,1912.8 L1028.9,1911.5 L1031.1,1910.3 L1033.3,1909.7 L1035.5,1908.5 L1037.7,1906.8 L1039.9,1905.6 L1042.1,1905.4 L1044.3,1905.1 L1046.5,1904.7 L1048.7,1904.0 L1050.9,1902.8 L1053.1,1902.0 L1055.3,1901.4 L1057.5,1900.3 L1059.7,1899.0 L1061.9,1896.4 L1064.1,1893.1 L1066.3,1890.0 L1068.5,1888.1 L1070.7,1887.2 L1072.9,1885.9 L1075.1,1884.2 L1077.3,1881.1 L1079.5,1878.5 L1081.7,1880.0 L1083.9,1880.1 L1086.1,1876.4 L1088.3,1873.3 L1090.5,1871.2 L1092.7,1869.9 L1094.9,1868.7 L1097.1,1866.2 L1099.3,1864.1 L1101.5,1862.2 L1103.7,1860.1 L1105.9,1857.9 L1108.1,1854.8 L1110.3,1851.5 L1112.5,1850.5 L1114.7,1850.1 L1116.9,1847.1 L1119.1,1844.2 L1121.3,1843.0 L1123.5,1842.6 L1125.7,1842.7 L1127.9,1841.1 L1130.1,1838.5 L1132.3,1837.8 L1134.5,1837.7 L1136.7,1838.1 L1138.9,1838.4 L1141.1,1835.7 L1143.3,1831.4 L1145.5,1831.3 L1147.7,1834.2 L1149.9,1834.8 L1152.1,1831.7 L1154.3,1827.6 L1156.5,1827.5 L1158.7,1829.0 L1160.9,1830.1 L1163.1,1833.5 L1165.3,1837.5 L1167.5,1837.7 L1169.7,1835.5 L1171.9,1833.9 L1174.1,1833.2 L1176.3,1836.1 L1178.5,1841.0 L1180.7,1844.4 L1182.9,1845.5 L1185.1,1846.5 L1187.3,1848.3 L1189.5,1848.1 L1191.7,1848.1 L1193.9,1849.7 L1196.1,1851.9 L1198.3,1855.0 L1200.5,1858.9 L1202.7,1862.7 L1204.9,1865.2 L1207.1,1868.0 L1209.3,1870.4 L1211.5,1871.7 L1213.7,1874.8 L1215.9,1878.8 L1218.1,1881.1 L1220.3,1882.7 L1222.5,1884.2 L1224.7,1885.9 L1226.9,1887.8 L1229.1,1890.0 L1231.3,1892.5 L1233.5,1894.2 L1235.7,1896.0 L1237.9,1898.2 L1240.1,1899.9 L1242.3,1900.4 L1244.5,1901.5 L1246.7,1902.8 L1248.9,1903.7 L1251.1,1905.2 L1253.3,1906.8 L1255.5,1907.7 L1257.7,1908.7 L1259.9,1909.8 L1262.1,1910.2 L1264.3,1910.7 L1266.5,1911.3 L1268.7,1911.6 L1270.9,1911.9 L1273.1,1912.2 L1275.3,1912.6 L1277.5,1913.4 L1279.7,1914.1 L1281.9,1914.6 L1284.1,1914.9 L1286.3,1915.3 L1288.5,1915.6 L1290.7,1916.1 L1292.9,1916.4 L1295.1,1916.9 L1297.3,1917.4 L1299.5,1917.7 L1301.7,1918.1 L1303.9,1918.4 L1306.1,1918.6 L1308.3,1918.8 L1310.5,1919.1 L1312.7,1919.3 L1314.9,1919.4 L1317.1,1919.6 L1319.3,1919.8 L1321.5,1919.9 L1323.7,1920.0 L1325.9,1920.1 L1328.1,1920.3 L1330.3,1920.5 L1332.5,1920.6 L1334.7,1920.5 L1336.9,1920.6 L1339.1,1920.7 L1341.3,1920.8 L1343.5,1920.9 L1345.7,1921.0 L1347.9,1921.0 L1350.1,1921.1 L1352.3,1921.2 L1354.5,1921.2 L1356.7,1921.3 L1358.9,1921.3 L1361.1,1921.4 L1363.3,1921.4 L1365.5,1921.5 L1367.7,1921.5 L1369.9,1921.6 L1372.1,1921.6 L1374.3,1921.7 L1376.5,1921.7 L1378.7,1921.7 L1380.9,1921.8 L1383.1,1921.8 L1385.3,1921.8 L1387.5,1921.9 L1389.7,1921.9 L1391.9,1922.0 L1394.1,1922.0 L1396.3,1922.0 L1398.5,1922.1 L1477.5,1922.1" fill="#bf95e9" stroke="#0d0d0d" stroke-width="3.8" stroke-linejoin="round" stroke-linecap="butt"/>
<path d="M963.4,1279.2 V1924.0" stroke="#0d0d0d" stroke-width="3.8" fill="none"/>
<path d="M961.5,1922.1 H1477.5" stroke="#0d0d0d" stroke-width="4" fill="none"/>
<text x="1033.6" y="1975.6" font-size="29" text-anchor="middle" fill="#111">10<tspan font-size="15.5" dy="-10.3" dx="0.2">1</tspan></text>
<text x="1165.7" y="1975.6" font-size="29" text-anchor="middle" fill="#111">10<tspan font-size="15.5" dy="-10.3" dx="0.2">2</tspan></text>
<text x="1297.7" y="1975.6" font-size="29" text-anchor="middle" fill="#111">10<tspan font-size="15.5" dy="-10.3" dx="0.2">3</tspan></text>
<text x="1429.8" y="1975.6" font-size="29" text-anchor="middle" fill="#111">10<tspan font-size="15.5" dy="-10.3" dx="0.2">4</tspan></text>
<rect x="979.1" y="1922.1" width="3.4" height="6.6" fill="#0d0d0d"/><rect x="991.8" y="1922.1" width="3.4" height="12.3" fill="#0d0d0d"/><rect x="1002.3" y="1922.1" width="3.4" height="6.6" fill="#0d0d0d"/><rect x="1011.1" y="1922.1" width="3.4" height="6.6" fill="#0d0d0d"/><rect x="1018.8" y="1922.1" width="3.4" height="6.6" fill="#0d0d0d"/><rect x="1025.6" y="1922.1" width="3.4" height="6.6" fill="#0d0d0d"/><rect x="1031.2" y="1922.1" width="4.4" height="17.4" fill="#0d0d0d"/><rect x="1071.4" y="1922.1" width="3.4" height="6.6" fill="#0d0d0d"/><rect x="1094.6" y="1922.1" width="3.4" height="6.6" fill="#0d0d0d"/><rect x="1111.1" y="1922.1" width="3.4" height="6.6" fill="#0d0d0d"/><rect x="1123.9" y="1922.1" width="3.4" height="12.3" fill="#0d0d0d"/><rect x="1134.4" y="1922.1" width="3.4" height="6.6" fill="#0d0d0d"/><rect x="1143.2" y="1922.1" width="3.4" height="6.6" fill="#0d0d0d"/><rect x="1150.9" y="1922.1" width="3.4" height="6.6" fill="#0d0d0d"/><rect x="1157.6" y="1922.1" width="3.4" height="6.6" fill="#0d0d0d"/><rect x="1163.2" y="1922.1" width="4.4" height="17.4" fill="#0d0d0d"/><rect x="1203.4" y="1922.1" width="3.4" height="6.6" fill="#0d0d0d"/><rect x="1226.7" y="1922.1" width="3.4" height="6.6" fill="#0d0d0d"/><rect x="1243.2" y="1922.1" width="3.4" height="6.6" fill="#0d0d0d"/><rect x="1255.9" y="1922.1" width="3.4" height="12.3" fill="#0d0d0d"/><rect x="1266.4" y="1922.1" width="3.4" height="6.6" fill="#0d0d0d"/><rect x="1275.2" y="1922.1" width="3.4" height="6.6" fill="#0d0d0d"/><rect x="1282.9" y="1922.1" width="3.4" height="6.6" fill="#0d0d0d"/><rect x="1289.7" y="1922.1" width="3.4" height="6.6" fill="#0d0d0d"/><rect x="1295.3" y="1922.1" width="4.4" height="17.4" fill="#0d0d0d"/><rect x="1335.5" y="1922.1" width="3.4" height="6.6" fill="#0d0d0d"/><rect x="1358.7" y="1922.1" width="3.4" height="6.6" fill="#0d0d0d"/><rect x="1375.2" y="1922.1" width="3.4" height="6.6" fill="#0d0d0d"/><rect x="1388.0" y="1922.1" width="3.4" height="12.3" fill="#0d0d0d"/><rect x="1398.5" y="1922.1" width="3.4" height="6.6" fill="#0d0d0d"/><rect x="1407.3" y="1922.1" width="3.4" height="6.6" fill="#0d0d0d"/><rect x="1415.0" y="1922.1" width="3.4" height="6.6" fill="#0d0d0d"/><rect x="1421.7" y="1922.1" width="3.4" height="6.6" fill="#0d0d0d"/><rect x="1427.4" y="1922.1" width="4.4" height="17.4" fill="#0d0d0d"/><rect x="1467.5" y="1922.1" width="3.4" height="6.6" fill="#0d0d0d"/>
<text x="1220.6" y="2027.3" font-size="29" text-anchor="middle" fill="#111" >Bead dTomato fluorescence (AU)</text>
<text transform="translate(935.6 1600.2) rotate(-90)" font-size="29" text-anchor="middle" fill="#111">Frequency (normalized)</text>
<text x="910.5" y="1266.0" font-size="26" text-anchor="start" font-weight="bold" fill="#000" >g</text>
<rect x="1393.3" y="1282.5" width="23.7" height="23.8" fill="#bf95e9"/>
<text x="1426.0" y="1305.5" font-size="29" text-anchor="start" fill="#111" >MV</text>
<rect x="1393.3" y="1325.9" width="23.7" height="24.1" fill="#6214a3"/>
<text x="1426.5" y="1349.2" font-size="29" text-anchor="start" fill="#111" >Exo</text>
<path d="M1519.2,1385.9 L1521.0,1282.8 L1521.8,1333.1 L1523.2,1357.8 L1523.8,1370.7 L1525.4,1374.1 L1527.6,1373.5 L1529.8,1373.0 L1532.0,1372.3 L1534.2,1371.7 L1536.4,1371.1 L1538.6,1370.2 L1540.8,1368.7 L1543.0,1366.9 L1545.2,1365.9 L1547.4,1365.0 L1549.6,1363.9 L1551.8,1363.2 L1554.0,1362.4 L1556.2,1361.0 L1558.4,1359.7 L1560.6,1358.8 L1562.8,1356.9 L1565.0,1354.4 L1567.2,1352.7 L1569.4,1350.0 L1571.6,1346.2 L1573.8,1343.5 L1576.0,1342.8 L1578.2,1341.7 L1580.4,1338.3 L1582.6,1336.1 L1584.8,1334.8 L1587.0,1332.3 L1589.2,1329.4 L1591.4,1327.8 L1593.6,1326.4 L1595.8,1324.0 L1598.0,1321.3 L1600.2,1320.0 L1602.4,1320.3 L1604.6,1319.3 L1606.8,1315.2 L1609.0,1310.4 L1611.2,1305.8 L1613.4,1300.8 L1615.6,1295.8 L1617.8,1292.2 L1620.0,1290.1 L1622.2,1291.5 L1624.4,1296.0 L1626.6,1298.7 L1628.8,1298.0 L1631.0,1296.5 L1633.2,1295.8 L1635.4,1297.9 L1637.6,1300.9 L1639.8,1302.0 L1642.0,1302.0 L1644.2,1302.6 L1646.4,1305.0 L1648.6,1307.4 L1650.8,1308.8 L1653.0,1311.9 L1655.2,1316.8 L1657.4,1322.0 L1659.6,1326.4 L1661.8,1330.7 L1664.0,1336.2 L1666.2,1340.8 L1668.4,1343.4 L1670.6,1347.1 L1672.8,1352.8 L1675.0,1358.0 L1677.2,1361.8 L1679.4,1364.1 L1681.6,1366.4 L1683.8,1369.7 L1686.0,1372.7 L1688.2,1375.1 L1690.4,1377.2 L1692.6,1378.9 L1694.8,1380.6 L1697.0,1381.9 L1699.2,1382.8 L1701.4,1383.5 L1703.6,1384.2 L1705.8,1384.7 L1708.0,1385.2 L1710.2,1385.7 L1711.0,1385.9 L2036.2,1385.9" fill="#9b9b9b" stroke="#0d0d0d" stroke-width="3.8" stroke-linejoin="round" stroke-linecap="butt"/>
<path d="M1519.2,1493.1 L1521.0,1387.4 L1521.8,1438.4 L1523.2,1463.5 L1523.8,1476.7 L1525.4,1480.1 L1527.6,1479.9 L1529.8,1479.4 L1532.0,1478.9 L1534.2,1478.7 L1536.4,1478.8 L1538.6,1478.6 L1540.8,1477.7 L1543.0,1476.7 L1545.2,1475.5 L1547.4,1474.6 L1549.6,1473.9 L1551.8,1472.7 L1554.0,1470.8 L1556.2,1468.8 L1558.4,1467.7 L1560.6,1466.7 L1562.8,1465.6 L1565.0,1464.3 L1567.2,1462.0 L1569.4,1459.7 L1571.6,1457.4 L1573.8,1455.0 L1576.0,1453.9 L1578.2,1451.9 L1580.4,1449.4 L1582.6,1447.2 L1584.8,1444.1 L1587.0,1441.8 L1589.2,1439.5 L1591.4,1437.6 L1593.6,1436.5 L1595.8,1433.2 L1598.0,1429.0 L1600.2,1426.6 L1602.4,1422.3 L1604.6,1414.2 L1606.8,1408.2 L1609.0,1405.9 L1611.2,1404.5 L1613.4,1402.9 L1615.6,1401.4 L1617.8,1402.0 L1620.0,1402.7 L1622.2,1401.9 L1624.4,1401.2 L1626.6,1401.0 L1628.8,1399.5 L1631.0,1397.4 L1633.2,1396.4 L1635.4,1395.6 L1637.6,1394.4 L1639.8,1393.7 L1642.0,1394.9 L1644.2,1403.4 L1646.4,1411.9 L1648.6,1416.2 L1650.8,1418.1 L1653.0,1419.1 L1655.2,1420.6 L1657.4,1422.9 L1659.6,1426.5 L1661.8,1431.6 L1664.0,1438.4 L1666.2,1444.9 L1668.4,1450.8 L1670.6,1456.6 L1672.8,1462.5 L1675.0,1466.8 L1677.2,1469.6 L1679.4,1473.2 L1681.6,1477.2 L1683.8,1480.5 L1686.0,1483.5 L1688.2,1485.7 L1690.4,1487.3 L1692.6,1489.0 L1694.8,1490.5 L1697.0,1491.5 L1699.2,1491.9 L1701.4,1492.3 L1703.6,1492.5 L1705.8,1492.7 L1708.0,1492.8 L1710.2,1493.0 L1711.0,1493.1 L2036.2,1493.1" fill="#9b9b9b" stroke="#0d0d0d" stroke-width="3.8" stroke-linejoin="round" stroke-linecap="butt"/>
<path d="M1519.2,1601.1 L1521.0,1494.6 L1521.8,1548.1 L1523.2,1574.4 L1523.8,1588.4 L1525.4,1591.8 L1527.6,1591.4 L1529.8,1591.2 L1532.0,1590.6 L1534.2,1589.5 L1536.4,1588.6 L1538.6,1588.1 L1540.8,1587.1 L1543.0,1585.3 L1545.2,1583.5 L1547.4,1582.1 L1549.6,1580.8 L1551.8,1580.2 L1554.0,1580.0 L1556.2,1579.3 L1558.4,1578.5 L1560.6,1577.1 L1562.8,1575.4 L1565.0,1574.7 L1567.2,1574.9 L1569.4,1574.2 L1571.6,1572.4 L1573.8,1570.6 L1576.0,1568.3 L1578.2,1565.4 L1580.4,1563.9 L1582.6,1563.8 L1584.8,1563.9 L1587.0,1562.1 L1589.2,1558.9 L1591.4,1555.6 L1593.6,1552.6 L1595.8,1549.6 L1598.0,1546.5 L1600.2,1543.8 L1602.4,1541.7 L1604.6,1539.0 L1606.8,1536.6 L1609.0,1536.6 L1611.2,1536.2 L1613.4,1532.5 L1615.6,1529.7 L1617.8,1528.0 L1620.0,1524.7 L1622.2,1521.6 L1624.4,1518.3 L1626.6,1515.0 L1628.8,1512.4 L1631.0,1509.2 L1633.2,1505.3 L1635.4,1504.6 L1637.6,1507.0 L1639.8,1508.8 L1642.0,1508.0 L1644.2,1506.3 L1646.4,1505.8 L1648.6,1507.2 L1650.8,1510.1 L1653.0,1513.8 L1655.2,1516.6 L1657.4,1520.1 L1659.6,1523.8 L1661.8,1526.8 L1664.0,1530.0 L1666.2,1532.9 L1668.4,1535.3 L1670.6,1535.8 L1672.8,1536.8 L1675.0,1540.2 L1677.2,1543.0 L1679.4,1546.6 L1681.6,1550.3 L1683.8,1552.0 L1686.0,1554.4 L1688.2,1557.7 L1690.4,1560.8 L1692.6,1565.3 L1694.8,1569.5 L1697.0,1572.7 L1699.2,1574.7 L1701.4,1575.0 L1703.6,1575.7 L1705.8,1577.7 L1708.0,1579.8 L1710.2,1581.8 L1712.4,1583.6 L1714.6,1584.9 L1716.8,1586.2 L1719.0,1587.3 L1721.2,1588.5 L1723.4,1589.4 L1725.6,1589.8 L1727.8,1590.5 L1730.0,1591.4 L1732.2,1591.8 L1734.4,1592.2 L1736.6,1593.0 L1738.8,1593.4 L1741.0,1593.5 L1743.2,1593.7 L1745.4,1594.0 L1747.6,1594.3 L1749.8,1594.9 L1752.0,1595.2 L1754.2,1595.4 L1756.4,1595.5 L1758.6,1595.6 L1760.8,1595.9 L1763.0,1596.2 L1765.2,1596.5 L1767.4,1596.6 L1769.6,1596.7 L1771.8,1596.8 L1774.0,1597.0 L1776.2,1597.1 L1778.4,1597.2 L1780.6,1597.3 L1782.8,1597.5 L1785.0,1597.6 L1787.2,1597.7 L1789.4,1597.9 L1791.6,1598.0 L1793.8,1598.1 L1796.0,1598.3 L1798.2,1598.4 L1800.4,1598.5 L1802.6,1598.6 L1804.8,1598.6 L1807.0,1598.7 L1809.2,1598.8 L1811.4,1598.9 L1813.6,1598.9 L1815.8,1599.0 L1818.0,1599.1 L1820.2,1599.1 L1822.4,1599.2 L1824.6,1599.3 L1826.8,1599.3 L1829.0,1599.3 L1831.2,1599.4 L1833.4,1599.5 L1835.6,1599.5 L1837.8,1599.7 L1840.0,1599.7 L1842.2,1599.7 L1844.4,1599.8 L1846.6,1599.9 L1848.8,1599.9 L1851.0,1599.9 L1853.2,1600.0 L1855.4,1600.1 L1857.6,1600.1 L1859.8,1600.1 L1862.0,1600.2 L1864.2,1600.2 L1866.4,1600.3 L1868.6,1600.3 L1870.8,1600.3 L1873.0,1600.4 L1875.2,1600.4 L1877.4,1600.5 L1879.6,1600.5 L1881.8,1600.6 L1884.0,1600.6 L1886.2,1600.7 L1888.4,1600.7 L1890.6,1600.8 L1892.8,1600.8 L1895.0,1600.8 L1897.2,1600.9 L1899.4,1600.9 L1901.6,1601.0 L1903.8,1601.0 L1906.0,1601.1 L2036.2,1601.1" fill="#6214a3" stroke="#0d0d0d" stroke-width="3.8" stroke-linejoin="round" stroke-linecap="butt"/>
<path d="M1519.2,1708.6 L1521.0,1602.6 L1521.8,1654.0 L1523.2,1679.3 L1523.8,1692.6 L1525.4,1696.1 L1527.6,1695.9 L1529.8,1696.2 L1532.0,1696.9 L1534.2,1697.0 L1536.4,1696.5 L1538.6,1696.3 L1540.8,1695.7 L1543.0,1694.1 L1545.2,1692.2 L1547.4,1690.3 L1549.6,1689.2 L1551.8,1688.7 L1554.0,1687.0 L1556.2,1685.4 L1558.4,1685.0 L1560.6,1684.6 L1562.8,1683.8 L1565.0,1683.2 L1567.2,1682.9 L1569.4,1682.4 L1571.6,1681.5 L1573.8,1680.2 L1576.0,1678.5 L1578.2,1677.0 L1580.4,1675.1 L1582.6,1672.8 L1584.8,1670.9 L1587.0,1668.1 L1589.2,1664.3 L1591.4,1661.1 L1593.6,1658.5 L1595.8,1656.9 L1598.0,1653.7 L1600.2,1650.0 L1602.4,1649.4 L1604.6,1648.6 L1606.8,1646.4 L1609.0,1643.3 L1611.2,1639.1 L1613.4,1634.9 L1615.6,1632.0 L1617.8,1632.1 L1620.0,1631.4 L1622.2,1629.5 L1624.4,1627.8 L1626.6,1624.2 L1628.8,1621.0 L1631.0,1620.1 L1633.2,1618.9 L1635.4,1616.1 L1637.6,1613.3 L1639.8,1611.2 L1642.0,1609.4 L1644.2,1610.4 L1646.4,1614.4 L1648.6,1618.6 L1650.8,1621.0 L1653.0,1622.1 L1655.2,1623.2 L1657.4,1625.2 L1659.6,1626.9 L1661.8,1629.4 L1664.0,1634.8 L1666.2,1640.4 L1668.4,1645.1 L1670.6,1648.8 L1672.8,1651.4 L1675.0,1654.3 L1677.2,1657.0 L1679.4,1659.7 L1681.6,1664.3 L1683.8,1668.1 L1686.0,1671.7 L1688.2,1676.7 L1690.4,1678.9 L1692.6,1679.5 L1694.8,1681.3 L1697.0,1683.7 L1699.2,1686.2 L1701.4,1688.2 L1703.6,1689.7 L1705.8,1691.2 L1708.0,1692.7 L1710.2,1694.2 L1712.4,1695.1 L1714.6,1695.9 L1716.8,1697.2 L1719.0,1698.2 L1721.2,1699.1 L1723.4,1700.0 L1725.6,1700.7 L1727.8,1701.1 L1730.0,1701.5 L1732.2,1701.9 L1734.4,1702.2 L1736.6,1702.8 L1738.8,1703.2 L1741.0,1703.6 L1743.2,1703.9 L1745.4,1704.2 L1747.6,1704.3 L1749.8,1704.6 L1752.0,1704.9 L1754.2,1705.1 L1756.4,1705.3 L1758.6,1705.5 L1760.8,1705.6 L1763.0,1705.9 L1765.2,1706.1 L1767.4,1706.1 L1769.6,1706.3 L1771.8,1706.5 L1774.0,1706.7 L1776.2,1706.8 L1778.4,1706.9 L1780.6,1707.0 L1782.8,1707.0 L1785.0,1707.1 L1787.2,1707.1 L1789.4,1707.2 L1791.6,1707.2 L1793.8,1707.3 L1796.0,1707.4 L1798.2,1707.4 L1800.4,1707.4 L1802.6,1707.5 L1804.8,1707.6 L1807.0,1707.7 L1809.2,1707.7 L1811.4,1707.8 L1813.6,1707.8 L1815.8,1707.8 L1818.0,1707.9 L1820.2,1707.9 L1822.4,1707.9 L1824.6,1708.0 L1826.8,1708.0 L1829.0,1708.0 L1831.2,1708.0 L1833.4,1708.1 L1835.6,1708.1 L1837.8,1708.1 L1840.0,1708.1 L1842.2,1708.2 L1844.4,1708.2 L1846.6,1708.3 L1848.8,1708.3 L1851.0,1708.3 L1853.2,1708.3 L1855.4,1708.3 L1857.6,1708.4 L1859.8,1708.4 L1862.0,1708.4 L1864.2,1708.4 L1866.4,1708.4 L1868.6,1708.5 L1870.8,1708.5 L1873.0,1708.5 L1875.2,1708.5 L1877.4,1708.5 L1879.6,1708.5 L1881.8,1708.6 L2036.2,1708.6" fill="#6214a3" stroke="#0d0d0d" stroke-width="3.8" stroke-linejoin="round" stroke-linecap="butt"/>
<path d="M1519.2,1815.8 L1521.0,1768.2 L1521.8,1791.0 L1523.2,1802.1 L1525.1,1806.0 L1526.7,1809.5 L1528.9,1810.9 L1531.1,1812.1 L1533.3,1812.9 L1535.5,1812.9 L1537.7,1812.9 L1539.9,1812.8 L1542.1,1812.7 L1544.3,1812.6 L1546.5,1812.5 L1548.7,1812.4 L1550.9,1812.1 L1553.1,1812.1 L1555.3,1812.0 L1557.5,1811.7 L1559.7,1811.5 L1561.9,1811.2 L1564.1,1810.9 L1566.3,1810.5 L1568.5,1810.2 L1570.7,1810.0 L1572.9,1809.7 L1575.1,1809.3 L1577.3,1809.0 L1579.5,1808.5 L1581.7,1808.0 L1583.9,1807.3 L1586.1,1806.8 L1588.3,1806.3 L1590.5,1805.7 L1592.7,1804.9 L1594.9,1804.2 L1597.1,1803.6 L1599.3,1802.6 L1601.5,1801.6 L1603.7,1800.8 L1605.9,1799.8 L1608.1,1798.3 L1610.3,1797.1 L1612.5,1795.6 L1614.7,1793.1 L1616.9,1791.2 L1619.1,1790.1 L1621.3,1788.1 L1623.5,1786.0 L1625.7,1785.6 L1627.9,1785.3 L1630.1,1783.8 L1632.3,1782.3 L1634.5,1782.0 L1636.7,1782.0 L1638.9,1778.4 L1641.1,1772.6 L1643.3,1767.8 L1645.5,1763.4 L1647.7,1759.8 L1649.9,1757.7 L1652.1,1757.1 L1654.3,1756.4 L1656.5,1754.2 L1658.7,1750.9 L1660.9,1748.5 L1663.1,1746.7 L1665.3,1744.9 L1667.5,1743.3 L1669.7,1740.7 L1671.9,1738.2 L1674.1,1735.9 L1676.3,1732.6 L1678.5,1729.3 L1680.7,1727.2 L1682.9,1725.6 L1685.1,1722.6 L1687.3,1720.1 L1689.5,1720.1 L1691.7,1720.5 L1693.9,1720.8 L1696.1,1721.0 L1698.3,1721.9 L1700.5,1724.8 L1702.7,1725.3 L1704.9,1724.8 L1707.1,1725.9 L1709.3,1725.7 L1711.5,1725.6 L1713.7,1725.7 L1715.9,1726.1 L1718.1,1727.6 L1720.3,1727.7 L1722.5,1725.5 L1724.7,1723.9 L1726.9,1724.0 L1729.1,1725.4 L1731.3,1727.2 L1733.5,1729.2 L1735.7,1731.7 L1737.9,1733.5 L1740.1,1735.5 L1742.3,1737.2 L1744.5,1737.4 L1746.7,1736.8 L1748.9,1735.2 L1751.1,1735.1 L1753.3,1736.5 L1755.5,1737.6 L1757.7,1739.7 L1759.9,1742.5 L1762.1,1743.4 L1764.3,1744.4 L1766.5,1746.9 L1768.7,1749.1 L1770.9,1750.3 L1773.1,1752.0 L1775.3,1753.6 L1777.5,1754.9 L1779.7,1757.8 L1781.9,1761.8 L1784.1,1763.7 L1786.3,1764.4 L1788.5,1765.0 L1790.7,1764.8 L1792.9,1765.8 L1795.1,1766.2 L1797.3,1766.3 L1799.5,1768.4 L1801.7,1769.1 L1803.9,1768.7 L1806.1,1770.7 L1808.3,1772.6 L1810.5,1774.1 L1812.7,1776.4 L1814.9,1778.6 L1817.1,1781.6 L1819.3,1784.4 L1821.5,1785.5 L1823.7,1786.9 L1825.9,1789.2 L1828.1,1791.1 L1830.3,1792.1 L1832.5,1792.5 L1834.7,1792.6 L1836.9,1792.2 L1839.1,1791.8 L1841.3,1791.6 L1843.5,1791.4 L1845.7,1791.2 L1847.9,1791.2 L1850.1,1790.9 L1852.3,1790.9 L1854.5,1792.5 L1856.7,1794.4 L1858.9,1795.4 L1861.1,1796.6 L1863.3,1798.0 L1865.5,1798.7 L1867.7,1799.3 L1869.9,1799.9 L1872.1,1800.0 L1874.3,1800.3 L1876.5,1801.3 L1878.7,1802.4 L1880.9,1803.1 L1883.1,1803.5 L1885.3,1803.8 L1887.5,1804.1 L1889.7,1804.4 L1891.9,1804.5 L1894.1,1804.7 L1896.3,1805.0 L1898.5,1805.7 L1900.7,1806.3 L1902.9,1806.5 L1905.1,1806.5 L1907.3,1806.7 L1909.5,1806.8 L1911.7,1806.9 L1913.9,1807.2 L1916.1,1807.5 L1918.3,1807.6 L1920.5,1808.0 L1922.7,1808.3 L1924.9,1808.6 L1927.1,1808.9 L1929.3,1809.0 L1931.5,1809.4 L1933.7,1809.8 L1935.9,1810.2 L1938.1,1810.6 L1940.3,1810.9 L1942.5,1811.4 L1944.7,1811.8 L1946.9,1812.0 L1949.1,1812.0 L1951.3,1812.0 L1953.5,1812.2 L1955.7,1812.4 L1957.9,1812.5 L1960.1,1812.6 L1962.3,1812.7 L1964.5,1812.7 L1966.7,1812.8 L1968.9,1812.9 L1971.1,1813.1 L1973.3,1813.2 L1975.5,1813.2 L1977.7,1813.4 L1979.9,1813.6 L1982.1,1813.7 L1984.3,1813.8 L1986.5,1813.9 L1988.7,1814.1 L1990.9,1814.2 L1993.1,1814.3 L1995.3,1814.4 L1997.5,1814.5 L1999.7,1814.6 L2001.9,1814.7 L2004.1,1814.7 L2006.3,1814.8 L2008.5,1814.8 L2010.7,1814.9 L2012.9,1814.9 L2015.1,1815.0 L2017.3,1815.1 L2019.5,1815.1 L2021.7,1815.2 L2023.9,1815.2 L2026.1,1815.2 L2028.3,1815.3 L2030.5,1815.3 L2032.0,1815.4 L2036.2,1815.8" fill="#6214a3" stroke="#0d0d0d" stroke-width="3.8" stroke-linejoin="round" stroke-linecap="butt"/>
<path d="M1519.2,1922.1 L1521.0,1817.3 L1521.8,1869.9 L1523.2,1895.7 L1523.8,1909.4 L1525.4,1912.8 L1527.6,1913.0 L1529.8,1912.8 L1532.0,1912.7 L1534.2,1912.8 L1536.4,1913.1 L1538.6,1913.3 L1540.8,1913.2 L1543.0,1912.6 L1545.2,1911.7 L1547.4,1910.6 L1549.6,1909.5 L1551.8,1908.5 L1554.0,1907.7 L1556.2,1907.1 L1558.4,1906.4 L1560.6,1905.5 L1562.8,1904.2 L1565.0,1903.2 L1567.2,1902.7 L1569.4,1902.0 L1571.6,1901.3 L1573.8,1900.4 L1576.0,1899.8 L1578.2,1899.4 L1580.4,1898.0 L1582.6,1896.3 L1584.8,1894.5 L1587.0,1892.9 L1589.2,1892.1 L1591.4,1890.7 L1593.6,1887.2 L1595.8,1883.5 L1598.0,1880.0 L1600.2,1877.5 L1602.4,1875.6 L1604.6,1872.2 L1606.8,1868.7 L1609.0,1866.4 L1611.2,1864.5 L1613.4,1863.0 L1615.6,1861.3 L1617.8,1859.7 L1620.0,1857.8 L1622.2,1855.7 L1624.4,1854.8 L1626.6,1853.5 L1628.8,1851.7 L1631.0,1850.0 L1633.2,1848.8 L1635.4,1847.4 L1637.6,1842.9 L1639.8,1837.7 L1642.0,1834.9 L1644.2,1833.3 L1646.4,1832.7 L1648.6,1833.2 L1650.8,1833.5 L1653.0,1833.5 L1655.2,1834.3 L1657.4,1836.5 L1659.6,1837.2 L1661.8,1837.4 L1664.0,1839.3 L1666.2,1841.0 L1668.4,1842.0 L1670.6,1844.2 L1672.8,1847.0 L1675.0,1849.5 L1677.2,1853.5 L1679.4,1858.0 L1681.6,1860.1 L1683.8,1861.6 L1686.0,1865.2 L1688.2,1869.4 L1690.4,1872.3 L1692.6,1875.7 L1694.8,1879.5 L1697.0,1882.4 L1699.2,1884.5 L1701.4,1886.1 L1703.6,1888.0 L1705.8,1890.2 L1708.0,1892.2 L1710.2,1893.0 L1712.4,1893.6 L1714.6,1895.1 L1716.8,1896.5 L1719.0,1897.8 L1721.2,1899.0 L1723.4,1900.0 L1725.6,1901.0 L1727.8,1901.7 L1730.0,1902.4 L1732.2,1902.7 L1734.4,1902.8 L1736.6,1903.0 L1738.8,1902.9 L1741.0,1903.2 L1743.2,1903.6 L1745.4,1903.5 L1747.6,1904.0 L1749.8,1904.8 L1752.0,1905.4 L1754.2,1906.0 L1756.4,1907.2 L1758.6,1908.9 L1760.8,1910.1 L1763.0,1910.9 L1765.2,1911.3 L1767.4,1911.2 L1769.6,1910.9 L1771.8,1910.8 L1774.0,1911.5 L1776.2,1912.0 L1778.4,1912.2 L1780.6,1912.3 L1782.8,1912.2 L1785.0,1912.5 L1787.2,1912.7 L1789.4,1912.7 L1791.6,1912.9 L1793.8,1913.4 L1796.0,1913.9 L1798.2,1914.1 L1800.4,1914.2 L1802.6,1914.4 L1804.8,1914.7 L1807.0,1915.1 L1809.2,1915.5 L1811.4,1915.9 L1813.6,1916.0 L1815.8,1916.1 L1818.0,1916.5 L1820.2,1916.9 L1822.4,1917.0 L1824.6,1917.2 L1826.8,1917.4 L1829.0,1917.5 L1831.2,1917.7 L1833.4,1917.8 L1835.6,1918.1 L1837.8,1918.3 L1840.0,1918.5 L1842.2,1918.6 L1844.4,1918.8 L1846.6,1918.9 L1848.8,1918.9 L1851.0,1919.1 L1853.2,1919.2 L1855.4,1919.2 L1857.6,1919.2 L1859.8,1919.1 L1862.0,1918.8 L1864.2,1918.4 L1866.4,1918.0 L1868.6,1917.8 L1870.8,1917.3 L1873.0,1916.8 L1875.2,1916.5 L1877.4,1916.4 L1879.6,1916.4 L1881.8,1916.4 L1884.0,1916.5 L1886.2,1916.7 L1888.4,1917.1 L1890.6,1917.4 L1892.8,1917.6 L1895.0,1917.9 L1897.2,1918.2 L1899.4,1918.4 L1901.6,1918.6 L1903.8,1918.8 L1906.0,1918.9 L1908.2,1919.0 L1910.4,1919.1 L1912.6,1919.3 L1914.8,1919.4 L1917.0,1919.6 L1919.2,1919.7 L1921.4,1919.7 L1923.6,1919.9 L1925.8,1920.0 L1928.0,1920.1 L1930.2,1920.1 L1932.4,1920.2 L1934.6,1920.3 L1936.8,1920.4 L1939.0,1920.5 L1941.2,1920.5 L1943.4,1920.6 L1945.6,1920.6 L1947.8,1920.7 L1950.0,1920.7 L1952.2,1920.8 L1954.4,1920.9 L1956.6,1921.0 L1958.8,1921.0 L1961.0,1921.1 L1963.2,1921.1 L1965.4,1921.2 L1967.6,1921.2 L1969.8,1921.3 L1972.0,1921.3 L1974.2,1921.4 L1976.4,1921.4 L1978.6,1921.5 L1980.8,1921.5 L1983.0,1921.6 L1985.2,1921.6 L1987.4,1921.7 L1989.6,1921.7 L1991.8,1921.8 L1994.0,1921.8 L1996.2,1921.8 L1998.4,1921.9 L2000.6,1921.9 L2002.8,1921.9 L2005.0,1922.0 L2007.2,1922.0 L2009.4,1922.1 L2036.2,1922.1" fill="#6214a3" stroke="#0d0d0d" stroke-width="3.8" stroke-linejoin="round" stroke-linecap="butt"/>
<path d="M1518.4,1281.3 V1924.0" stroke="#0d0d0d" stroke-width="3.8" fill="none"/>
<path d="M1516.5,1922.1 H2036.2" stroke="#0d0d0d" stroke-width="4" fill="none"/>
<text x="1588.2" y="1975.6" font-size="29" text-anchor="middle" fill="#111">10<tspan font-size="15.5" dy="-10.3" dx="0.2">1</tspan></text>
<text x="1720.5" y="1975.6" font-size="29" text-anchor="middle" fill="#111">10<tspan font-size="15.5" dy="-10.3" dx="0.2">2</tspan></text>
<text x="1852.8" y="1975.6" font-size="29" text-anchor="middle" fill="#111">10<tspan font-size="15.5" dy="-10.3" dx="0.2">3</tspan></text>
<text x="1985.1" y="1975.6" font-size="29" text-anchor="middle" fill="#111">10<tspan font-size="15.5" dy="-10.3" dx="0.2">4</tspan></text>
<rect x="1533.6" y="1922.1" width="3.4" height="6.6" fill="#0d0d0d"/><rect x="1546.4" y="1922.1" width="3.4" height="12.3" fill="#0d0d0d"/><rect x="1556.8" y="1922.1" width="3.4" height="6.6" fill="#0d0d0d"/><rect x="1565.7" y="1922.1" width="3.4" height="6.6" fill="#0d0d0d"/><rect x="1573.4" y="1922.1" width="3.4" height="6.6" fill="#0d0d0d"/><rect x="1580.1" y="1922.1" width="3.4" height="6.6" fill="#0d0d0d"/><rect x="1585.8" y="1922.1" width="4.4" height="17.4" fill="#0d0d0d"/><rect x="1626.0" y="1922.1" width="3.4" height="6.6" fill="#0d0d0d"/><rect x="1649.3" y="1922.1" width="3.4" height="6.6" fill="#0d0d0d"/><rect x="1665.9" y="1922.1" width="3.4" height="6.6" fill="#0d0d0d"/><rect x="1678.7" y="1922.1" width="3.4" height="12.3" fill="#0d0d0d"/><rect x="1689.1" y="1922.1" width="3.4" height="6.6" fill="#0d0d0d"/><rect x="1698.0" y="1922.1" width="3.4" height="6.6" fill="#0d0d0d"/><rect x="1705.7" y="1922.1" width="3.4" height="6.6" fill="#0d0d0d"/><rect x="1712.4" y="1922.1" width="3.4" height="6.6" fill="#0d0d0d"/><rect x="1718.1" y="1922.1" width="4.4" height="17.4" fill="#0d0d0d"/><rect x="1758.3" y="1922.1" width="3.4" height="6.6" fill="#0d0d0d"/><rect x="1781.6" y="1922.1" width="3.4" height="6.6" fill="#0d0d0d"/><rect x="1798.2" y="1922.1" width="3.4" height="6.6" fill="#0d0d0d"/><rect x="1811.0" y="1922.1" width="3.4" height="12.3" fill="#0d0d0d"/><rect x="1821.4" y="1922.1" width="3.4" height="6.6" fill="#0d0d0d"/><rect x="1830.3" y="1922.1" width="3.4" height="6.6" fill="#0d0d0d"/><rect x="1838.0" y="1922.1" width="3.4" height="6.6" fill="#0d0d0d"/><rect x="1844.7" y="1922.1" width="3.4" height="6.6" fill="#0d0d0d"/><rect x="1850.4" y="1922.1" width="4.4" height="17.4" fill="#0d0d0d"/><rect x="1890.6" y="1922.1" width="3.4" height="6.6" fill="#0d0d0d"/><rect x="1913.9" y="1922.1" width="3.4" height="6.6" fill="#0d0d0d"/><rect x="1930.5" y="1922.1" width="3.4" height="6.6" fill="#0d0d0d"/><rect x="1943.3" y="1922.1" width="3.4" height="12.3" fill="#0d0d0d"/><rect x="1953.7" y="1922.1" width="3.4" height="6.6" fill="#0d0d0d"/><rect x="1962.6" y="1922.1" width="3.4" height="6.6" fill="#0d0d0d"/><rect x="1970.3" y="1922.1" width="3.4" height="6.6" fill="#0d0d0d"/><rect x="1977.0" y="1922.1" width="3.4" height="6.6" fill="#0d0d0d"/><rect x="1982.7" y="1922.1" width="4.4" height="17.4" fill="#0d0d0d"/><rect x="2022.9" y="1922.1" width="3.4" height="6.6" fill="#0d0d0d"/>
<text x="1778.3" y="2027.3" font-size="29" text-anchor="middle" fill="#111" >Bead dTomato fluorescence (AU)</text>
<text x="2033.3" y="1306.3" font-size="29" text-anchor="end" fill="#111" >No treatment</text>
<text x="2033.3" y="1418.0" font-size="29" text-anchor="end" fill="#111" >No treatment</text>
<text x="2033.3" y="1453.0" font-size="29" text-anchor="end" fill="#111" >+ blocking</text>
<text x="2033.3" y="1525.2" font-size="29" text-anchor="end" fill="#111" >Non-targeted</text>
<text x="2033.3" y="1632.8" font-size="29" text-anchor="end" fill="#111" >Non-targeted</text>
<text x="2033.3" y="1667.8" font-size="29" text-anchor="end" fill="#111" >+ blocking</text>
<text x="2033.3" y="1742.0" font-size="29" text-anchor="end" fill="#111" >Targeted</text>
<text x="2033.3" y="1847.5" font-size="29" text-anchor="end" fill="#111" >Targeted</text>
<text x="2033.3" y="1882.9" font-size="29" text-anchor="end" fill="#111" >+ blocking</text>
</svg>
</body></html>
